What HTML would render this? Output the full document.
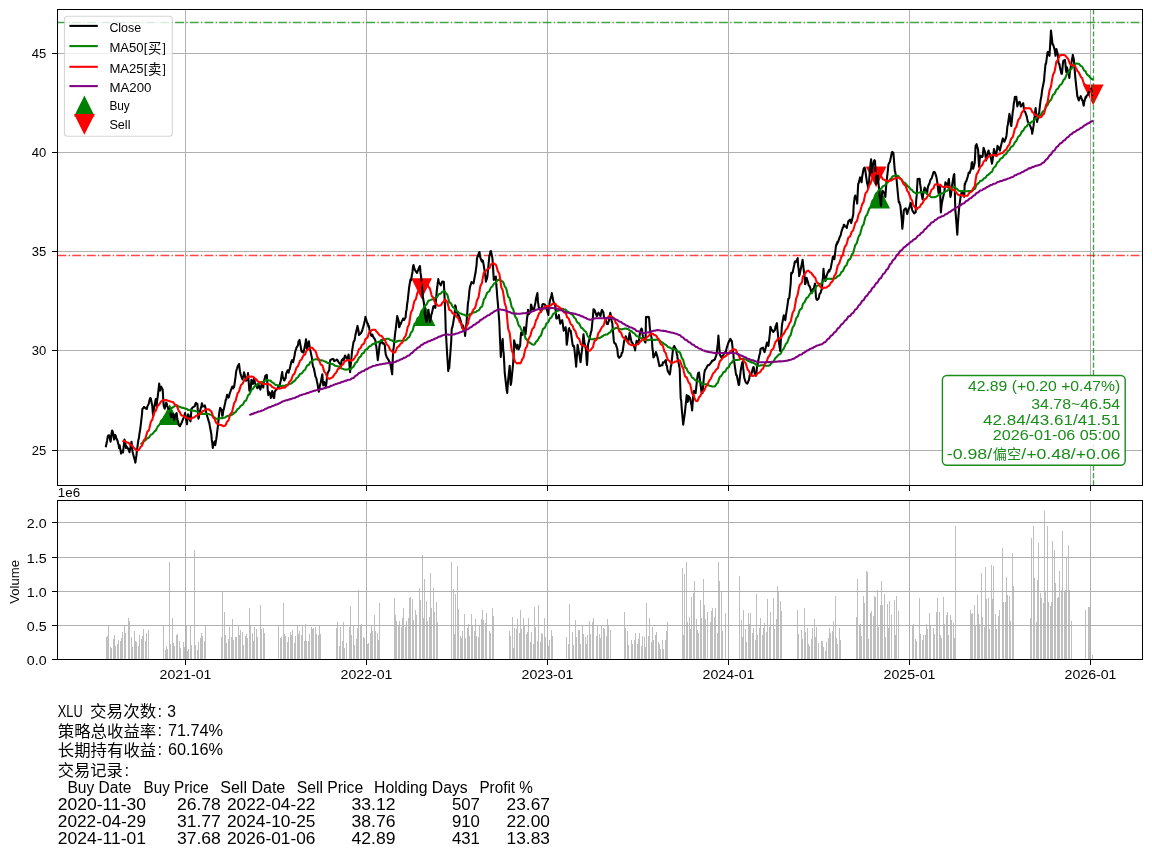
<!DOCTYPE html>
<html lang="zh"><head><meta charset="utf-8"><title>XLU</title><style>html,body{margin:0;padding:0;background:#fff}</style></head><body>
<svg width="1152" height="857" viewBox="0 0 1152 857" style="display:block" font-family="'Liberation Sans', 'Noto Sans CJK SC', sans-serif">
<rect width="1152" height="857" fill="#fff"/>
<g id="price">
<path d="M169.7,404.2 L159.3,425.0 L180.1,425.0 Z" fill="#008000"/>
<path d="M425.0,305.1 L414.6,325.9 L435.4,325.9 Z" fill="#008000"/>
<path d="M879.6,187.8 L869.2,208.6 L890.0,208.6 Z" fill="#008000"/>
<path d="M421.6,299.1 L411.2,278.3 L432.0,278.3 Z" fill="#ff0000"/>
<path d="M876.1,187.2 L865.7,166.4 L886.5,166.4 Z" fill="#ff0000"/>
<path d="M1093.2,105.2 L1082.8,84.4 L1103.6,84.4 Z" fill="#ff0000"/>
<path d="M185.5,9.5 V485.5 M366.5,9.5 V485.5 M547.5,9.5 V485.5 M728.5,9.5 V485.5 M909.5,9.5 V485.5 M1090.5,9.5 V485.5 M57.5,450.5 H1142.5 M57.5,350.5 H1142.5 M57.5,251.5 H1142.5 M57.5,152.5 H1142.5 M57.5,53.5 H1142.5" stroke="#b0b0b0" stroke-width="1" fill="none" shape-rendering="crispEdges"/>
<path d="M57.5,22.5 H1142.5" stroke="#008000" stroke-opacity="0.72" stroke-width="1.35" stroke-dasharray="8.9 2.2 1.4 2.2" fill="none"/>
<path d="M57.5,255.5 H1142.5" stroke="#ff0000" stroke-opacity="0.72" stroke-width="1.35" stroke-dasharray="8.9 2.2 1.4 2.2" fill="none"/>
<path d="M1093.5,485.5 V9.5" stroke="#008000" stroke-opacity="0.72" stroke-width="1.35" stroke-dasharray="5.14 2.22" fill="none"/>
<path d="M105.7,447.3 L107.2,440.2 L107.7,436.8 L108.2,435.5 L108.7,435.4 L109.2,435.4 L110.6,441.7 L111.1,437.8 L111.6,433.0 L112.1,430.5 L112.6,431.2 L114.1,439.6 L114.6,437.2 L115.1,434.7 L115.6,435.6 L116.1,437.7 L117.6,441.0 L118.1,443.5 L118.6,444.4 L119.1,448.0 L119.6,445.3 L121.1,453.6 L121.6,451.3 L122.1,450.8 L122.5,451.5 L123.0,452.5 L124.5,439.6 L125.0,441.2 L125.5,444.6 L126.0,448.0 L126.5,446.3 L128.5,449.3 L129.0,450.5 L129.5,452.2 L130.0,449.6 L131.5,441.7 L132.0,446.5 L132.5,451.4 L133.0,453.6 L133.5,455.5 L134.9,460.5 L135.4,462.7 L135.9,458.9 L136.4,455.7 L136.9,450.8 L138.4,439.7 L138.9,438.1 L139.4,434.0 L139.9,431.2 L140.4,428.0 L141.9,415.1 L142.4,408.8 L142.9,408.5 L143.4,408.2 L143.9,407.0 L145.3,407.8 L145.8,408.2 L146.3,408.8 L146.8,409.0 L147.3,406.6 L148.8,403.6 L149.3,401.0 L149.8,399.0 L150.3,398.0 L150.8,398.5 L152.3,406.0 L152.8,412.8 L153.3,415.8 L153.8,409.9 L154.3,406.8 L155.8,399.0 L156.3,402.3 L156.7,406.0 L157.2,400.1 L157.7,396.8 L159.2,383.6 L159.7,387.7 L160.2,390.6 L160.7,387.5 L161.2,386.6 L162.7,389.6 L163.2,398.6 L163.7,406.0 L164.2,407.1 L164.7,408.8 L166.2,402.5 L166.7,403.7 L167.2,405.6 L168.2,408.8 L169.6,408.9 L170.1,411.0 L170.6,414.2 L171.1,417.2 L171.6,416.7 L173.1,414.1 L173.6,417.5 L174.1,420.0 L174.6,418.6 L175.1,415.3 L176.6,413.0 L177.1,417.2 L177.6,420.0 L178.1,421.5 L178.6,424.7 L180.0,426.3 L180.5,424.4 L181.0,424.2 L181.5,422.8 L183.5,418.0 L184.0,417.2 L184.5,415.9 L185.0,413.0 L187.0,424.2 L187.5,418.6 L188.0,414.4 L188.5,414.8 L189.0,417.5 L190.5,421.4 L191.0,415.3 L191.4,408.8 L191.9,408.6 L192.4,407.6 L194.4,406.4 L194.9,406.0 L195.4,403.7 L195.9,402.9 L197.4,404.1 L197.9,411.8 L198.4,418.6 L198.9,417.4 L199.4,413.2 L200.9,407.9 L201.4,405.7 L201.9,403.2 L202.4,405.0 L202.8,406.6 L204.3,406.1 L204.8,405.3 L205.3,407.4 L205.8,409.2 L206.3,413.3 L208.3,419.7 L208.8,421.8 L209.3,422.8 L209.8,426.0 L211.3,434.0 L211.8,439.9 L212.3,442.9 L212.8,448.0 L213.3,444.6 L214.7,441.4 L215.2,445.2 L215.7,442.4 L216.2,439.5 L216.7,435.9 L218.2,423.6 L218.7,417.8 L219.2,413.3 L219.7,410.2 L220.2,407.8 L221.7,410.1 L222.2,415.8 L222.7,415.5 L223.2,410.9 L223.7,409.6 L225.2,402.8 L225.7,399.9 L226.1,399.9 L226.6,397.3 L227.1,394.8 L228.6,397.6 L229.1,396.4 L229.6,393.9 L230.1,392.5 L232.1,386.8 L232.6,386.5 L233.1,388.5 L233.6,386.9 L234.1,387.1 L235.6,376.4 L236.1,371.9 L236.6,369.6 L237.1,368.6 L237.5,366.8 L239.0,364.0 L239.5,367.7 L240.0,371.5 L240.5,373.8 L241.0,375.3 L242.5,379.4 L243.0,376.7 L243.5,376.1 L244.0,372.4 L244.5,373.9 L246.0,380.8 L246.5,380.4 L247.0,378.6 L247.5,376.8 L248.0,373.1 L249.4,390.6 L249.9,389.7 L250.4,391.0 L250.9,386.1 L251.4,379.8 L252.9,384.0 L253.4,382.3 L253.9,378.4 L254.4,378.6 L254.9,383.0 L256.4,385.8 L256.9,387.2 L257.4,388.2 L257.9,386.1 L258.4,384.2 L260.4,389.6 L260.8,387.8 L261.3,385.6 L261.8,384.0 L263.3,387.5 L263.8,382.2 L264.3,380.1 L264.8,378.4 L265.3,375.9 L266.8,374.9 L267.3,383.4 L267.8,391.0 L268.3,395.2 L268.8,391.9 L270.3,393.4 L270.8,398.0 L271.3,396.3 L271.8,393.1 L272.2,391.0 L273.7,398.0 L274.2,398.0 L274.7,392.2 L275.2,391.0 L275.7,390.3 L277.7,388.2 L278.2,386.6 L278.7,386.8 L279.2,387.1 L280.7,381.0 L281.2,378.0 L281.7,374.6 L282.2,372.1 L282.7,376.8 L284.1,380.5 L284.6,380.4 L285.1,378.0 L285.6,378.4 L286.1,373.7 L287.6,370.3 L288.1,370.9 L288.6,372.8 L289.1,370.1 L289.6,369.4 L291.1,362.7 L291.6,361.2 L292.1,360.2 L292.6,361.2 L293.1,362.3 L294.6,355.6 L295.0,352.5 L295.5,350.4 L296.0,349.5 L296.5,347.6 L298.0,345.2 L298.5,341.6 L299.0,340.8 L299.5,339.9 L300.0,342.6 L301.5,351.2 L302.0,351.8 L302.5,351.1 L303.0,352.5 L303.5,352.6 L305.0,345.5 L305.5,343.3 L306.0,339.2 L306.5,343.2 L306.9,349.0 L308.9,341.3 L309.4,345.2 L309.9,349.0 L310.4,350.6 L311.9,357.9 L312.4,363.1 L312.9,365.8 L313.4,367.5 L313.9,368.3 L315.4,376.3 L315.9,377.4 L316.4,378.4 L316.9,381.3 L317.4,383.3 L318.8,391.7 L319.3,389.1 L319.8,386.4 L320.3,384.0 L320.8,382.2 L322.3,374.2 L322.8,380.7 L323.3,385.4 L323.8,382.8 L324.3,382.1 L325.8,386.8 L326.3,383.8 L326.8,379.3 L327.3,374.6 L327.8,372.8 L329.3,370.0 L329.7,364.4 L330.2,360.2 L330.7,359.8 L331.2,359.7 L332.7,358.8 L333.2,359.3 L333.7,359.3 L334.2,361.2 L334.7,360.9 L336.2,360.3 L336.7,359.5 L337.2,359.9 L337.7,360.3 L338.2,361.6 L339.7,363.7 L340.2,363.8 L340.7,365.8 L341.1,365.7 L341.6,360.7 L343.1,358.6 L343.6,360.2 L344.1,359.3 L344.6,356.7 L345.1,355.5 L346.6,358.1 L347.1,358.8 L347.6,358.4 L348.6,354.6 L350.1,372.1 L350.6,365.8 L351.1,361.3 L351.6,356.0 L352.1,350.8 L353.5,342.1 L354.0,341.2 L354.5,340.4 L355.0,337.8 L355.5,334.5 L357.0,328.2 L357.5,325.9 L358.0,328.2 L358.5,331.0 L359.0,335.0 L360.5,333.8 L361.0,332.9 L361.5,332.2 L362.0,331.2 L364.0,324.4 L364.4,322.2 L364.9,320.6 L365.4,316.8 L367.4,323.8 L367.9,323.6 L368.4,326.6 L368.9,326.0 L369.4,329.4 L370.9,335.0 L371.4,335.8 L371.9,335.5 L372.4,334.6 L372.9,336.4 L374.9,339.4 L375.4,340.6 L375.8,345.1 L376.3,346.2 L377.8,360.2 L378.3,356.2 L378.8,352.6 L379.3,347.6 L379.8,343.7 L381.3,340.0 L381.8,340.9 L382.3,343.4 L382.8,343.4 L383.3,342.8 L384.8,345.1 L385.3,350.9 L385.8,354.6 L386.3,355.8 L386.8,357.2 L388.2,359.6 L388.7,360.0 L389.2,362.3 L389.7,362.0 L390.2,363.0 L392.2,374.2 L392.7,360.5 L393.2,350.4 L393.7,347.4 L395.2,332.7 L395.7,329.4 L396.2,325.2 L396.7,320.9 L397.2,316.1 L398.7,321.2 L399.1,327.2 L399.6,326.8 L400.1,323.4 L400.6,324.5 L402.1,320.5 L402.6,320.1 L403.1,318.5 L403.6,319.7 L404.1,320.0 L405.6,317.3 L406.1,311.6 L406.6,309.7 L407.1,304.3 L407.6,301.5 L409.1,287.7 L409.6,284.3 L410.1,281.7 L410.5,279.4 L411.0,280.3 L412.5,271.7 L413.0,266.9 L413.5,265.1 L414.0,267.0 L414.5,269.1 L416.0,271.7 L416.5,272.0 L417.0,273.0 L417.5,271.6 L419.5,266.6 L420.0,266.0 L420.5,272.9 L421.0,275.9 L421.5,280.0 L422.9,297.5 L423.4,300.1 L423.9,302.7 L424.4,307.9 L424.9,315.0 L426.4,322.0 L426.9,319.4 L427.4,315.5 L427.9,311.6 L428.4,309.7 L429.9,322.0 L430.4,320.6 L430.9,317.6 L431.4,314.3 L431.9,313.2 L433.4,306.2 L433.8,307.3 L434.3,306.2 L434.8,307.3 L435.3,308.0 L436.8,290.5 L437.3,287.0 L437.8,282.4 L438.3,279.1 L438.8,282.2 L440.8,285.3 L441.3,283.9 L441.8,282.6 L442.3,281.5 L443.8,281.7 L444.3,291.6 L444.8,302.7 L445.2,311.3 L445.7,329.0 L447.2,355.2 L447.7,361.9 L448.2,371.0 L448.7,367.8 L449.2,368.3 L451.2,341.5 L451.7,329.0 L452.2,327.7 L452.7,325.9 L454.2,316.8 L454.7,313.6 L455.2,305.4 L455.7,306.3 L456.2,310.4 L458.1,315.4 L458.6,315.0 L459.1,316.7 L459.6,317.2 L461.1,322.4 L461.6,324.7 L462.1,327.6 L462.6,327.2 L463.1,325.6 L464.6,331.5 L465.1,336.0 L465.6,330.5 L466.1,327.2 L466.6,322.0 L468.0,302.7 L468.5,300.2 L469.0,295.3 L469.5,289.9 L470.0,287.0 L471.5,282.1 L472.0,282.6 L472.5,282.9 L473.0,283.1 L473.5,283.5 L475.0,275.1 L475.5,273.0 L476.0,268.8 L476.5,265.6 L477.0,258.1 L478.5,254.5 L479.0,252.5 L479.5,252.0 L479.9,255.2 L480.4,258.0 L481.9,261.6 L482.4,260.3 L482.9,260.7 L483.4,263.5 L483.9,266.3 L485.4,276.4 L485.9,281.7 L486.4,279.8 L486.9,278.9 L487.4,276.5 L489.4,255.5 L489.9,254.3 L490.4,251.5 L490.9,251.0 L492.3,257.4 L492.8,262.5 L493.3,272.1 L493.8,280.0 L494.3,279.2 L495.8,276.5 L496.3,284.7 L496.8,290.4 L497.3,297.5 L497.8,302.7 L499.3,322.0 L499.8,334.8 L500.3,345.2 L500.8,357.0 L501.3,348.1 L502.7,339.0 L503.2,350.0 L503.7,353.7 L504.2,362.6 L504.7,372.7 L506.2,385.9 L506.7,390.4 L507.2,392.9 L507.7,385.6 L508.2,379.6 L509.7,365.7 L510.2,375.2 L510.7,385.0 L511.2,382.8 L511.7,377.9 L513.2,362.6 L513.7,353.9 L514.1,340.4 L514.6,342.3 L515.1,343.5 L516.6,348.7 L517.1,346.0 L517.6,344.7 L518.1,348.2 L518.6,349.2 L520.1,345.9 L520.6,338.3 L521.1,332.5 L521.6,333.4 L522.1,334.9 L523.6,332.2 L524.1,327.2 L524.6,329.6 L525.1,332.3 L525.6,334.2 L527.0,318.5 L527.5,315.8 L528.0,309.7 L529.0,314.1 L530.5,311.5 L531.0,304.5 L531.5,305.7 L532.0,307.9 L532.5,309.5 L534.0,309.4 L534.5,306.8 L535.0,304.5 L535.5,302.2 L536.0,298.4 L537.4,293.1 L537.9,300.9 L538.4,304.6 L538.9,308.0 L539.4,307.6 L540.9,311.5 L541.4,309.8 L541.9,307.6 L542.4,304.5 L542.9,304.1 L544.9,304.6 L545.4,305.4 L545.9,306.2 L546.4,308.3 L548.4,315.0 L548.8,306.8 L549.3,305.0 L549.8,301.0 L551.3,296.0 L551.8,293.1 L552.3,296.1 L552.8,298.2 L553.3,301.0 L555.3,306.2 L555.8,312.6 L556.3,318.5 L556.8,318.5 L558.3,317.1 L558.8,315.0 L559.3,318.2 L559.8,320.9 L560.2,323.7 L561.7,321.0 L562.2,320.2 L562.7,323.2 L563.2,326.8 L563.7,330.7 L565.2,328.7 L565.7,327.2 L566.2,334.5 L566.7,344.7 L567.2,341.8 L568.7,329.0 L569.2,328.2 L569.7,330.7 L570.2,330.6 L570.7,330.7 L572.6,344.7 L573.1,346.1 L573.6,345.6 L574.1,346.5 L575.6,360.3 L576.1,366.6 L576.6,360.5 L577.1,353.5 L577.6,344.7 L579.1,353.2 L579.6,355.5 L580.1,359.6 L580.6,362.2 L581.1,357.1 L582.6,344.7 L583.1,338.2 L583.5,334.2 L584.0,339.2 L584.5,342.7 L586.0,350.0 L586.5,358.6 L587.0,364.9 L587.5,358.4 L588.0,344.7 L589.5,339.1 L590.0,336.0 L590.5,334.2 L591.0,332.0 L591.5,330.7 L593.0,315.8 L593.5,309.2 L594.0,309.4 L594.5,309.9 L596.4,315.1 L596.9,316.2 L597.4,315.6 L597.9,313.5 L598.4,312.7 L599.9,314.4 L600.4,316.2 L600.9,314.1 L601.4,311.5 L601.9,309.8 L603.4,312.6 L603.9,316.3 L604.4,318.0 L604.9,317.8 L605.4,318.8 L606.8,323.9 L607.3,323.9 L607.8,324.1 L608.3,322.2 L608.8,321.1 L610.3,312.7 L610.8,315.1 L611.3,319.3 L611.8,321.7 L612.3,323.2 L613.8,340.7 L614.3,342.9 L614.8,343.5 L615.3,343.4 L615.8,344.2 L617.3,349.1 L617.8,354.1 L618.2,356.5 L618.7,357.2 L619.2,357.8 L621.2,355.6 L621.7,352.9 L622.2,352.9 L622.7,351.2 L624.2,340.7 L624.7,339.6 L625.2,338.8 L625.7,336.3 L626.2,337.2 L627.7,342.5 L628.2,341.8 L628.7,339.8 L629.2,335.5 L629.6,332.9 L631.6,342.5 L632.1,342.3 L632.6,343.3 L633.1,344.2 L634.6,347.8 L635.1,350.4 L635.6,345.2 L636.1,343.9 L636.6,340.7 L638.1,344.2 L639.1,339.3 L639.6,335.5 L640.1,332.0 L641.5,328.5 L642.0,329.4 L642.5,334.2 L643.0,336.8 L643.5,338.1 L645.0,342.2 L645.5,342.5 L646.0,317.1 L646.5,317.1 L647.0,317.1 L648.5,316.9 L649.0,317.1 L649.5,323.3 L650.0,330.2 L650.5,331.6 L652.0,340.7 L652.4,348.3 L652.9,351.2 L653.4,357.4 L653.9,357.0 L655.4,353.7 L655.9,352.1 L656.4,353.3 L656.9,355.5 L657.4,356.5 L658.9,363.6 L659.4,366.1 L659.9,365.4 L660.4,365.8 L660.9,365.2 L662.4,365.2 L662.9,362.4 L663.4,362.7 L663.9,362.6 L664.3,362.2 L665.8,360.0 L666.3,365.3 L666.8,365.4 L667.3,368.7 L667.8,371.1 L669.8,374.4 L670.3,371.6 L670.8,366.7 L671.3,365.2 L672.8,351.2 L673.3,347.7 L673.8,346.9 L674.3,346.0 L674.8,347.3 L676.2,349.5 L676.7,353.5 L677.2,355.1 L677.7,359.1 L678.2,361.1 L679.7,368.7 L680.2,384.4 L680.7,398.5 L681.2,400.5 L681.7,408.3 L683.2,424.7 L683.7,420.9 L684.2,417.7 L684.7,414.2 L685.2,409.6 L686.7,395.0 L687.1,398.6 L687.6,402.0 L688.1,400.7 L688.6,396.1 L690.1,398.1 L690.6,401.0 L691.1,403.7 L691.6,405.5 L692.1,410.4 L693.6,391.5 L694.1,390.8 L694.6,390.9 L695.1,392.5 L695.6,393.2 L697.1,379.6 L697.6,375.9 L698.1,373.1 L698.5,373.6 L699.0,372.5 L700.5,384.3 L701.0,388.0 L701.5,392.1 L702.0,390.7 L702.5,393.2 L704.0,375.6 L704.5,372.2 L705.0,370.0 L705.5,369.5 L706.0,368.7 L707.5,365.8 L708.0,365.1 L708.5,365.2 L709.5,364.7 L710.9,362.9 L711.4,362.0 L711.9,360.9 L712.4,361.3 L712.9,360.5 L714.4,359.8 L714.9,359.4 L715.4,357.4 L715.9,356.5 L716.4,355.1 L717.9,343.1 L718.4,335.5 L718.9,342.0 L719.4,349.1 L719.9,354.7 L721.4,357.4 L721.8,357.9 L722.3,356.1 L722.8,356.8 L723.3,355.0 L725.3,351.8 L725.8,352.8 L726.3,349.5 L726.8,347.5 L728.8,341.6 L729.3,340.8 L729.8,340.9 L730.3,338.8 L731.8,341.0 L732.3,345.4 L732.8,349.5 L733.2,352.4 L733.7,358.2 L735.7,372.2 L736.2,375.1 L736.7,375.1 L737.2,377.5 L738.7,385.0 L739.2,384.5 L739.7,379.0 L740.2,375.0 L740.7,370.5 L742.2,362.5 L742.7,361.7 L743.2,368.2 L743.7,372.9 L744.2,377.5 L745.6,382.0 L746.1,382.7 L746.6,383.4 L747.1,383.6 L747.6,383.2 L749.1,379.3 L749.6,375.7 L750.1,374.8 L750.6,375.0 L751.1,375.3 L753.1,367.6 L753.6,367.0 L754.1,369.3 L754.6,373.1 L756.1,375.6 L756.5,372.1 L757.0,367.1 L757.5,365.2 L758.0,361.9 L759.5,354.7 L760.0,353.6 L760.5,349.1 L761.0,348.6 L761.5,348.3 L763.0,347.7 L763.5,350.1 L764.0,350.7 L764.5,352.1 L765.0,350.4 L766.5,344.4 L767.0,342.5 L767.5,343.0 L767.9,342.7 L768.4,346.0 L769.9,333.3 L770.4,326.7 L770.9,327.7 L771.4,329.5 L773.4,332.0 L773.9,330.6 L774.4,330.6 L774.9,330.2 L775.4,327.0 L776.9,323.2 L777.4,329.6 L777.9,333.7 L778.4,339.0 L778.9,342.4 L780.3,351.2 L780.8,340.7 L781.3,334.8 L781.8,326.7 L782.3,323.1 L783.8,315.3 L784.3,318.4 L784.8,318.8 L785.3,320.2 L785.8,316.2 L787.3,306.4 L787.8,303.0 L788.3,299.0 L788.8,298.7 L789.3,297.7 L790.7,283.5 L791.2,272.9 L791.7,272.8 L792.2,273.1 L792.7,272.1 L794.2,265.0 L794.7,262.3 L795.2,261.3 L795.7,262.3 L796.2,261.4 L797.7,258.2 L798.2,266.6 L798.7,269.1 L799.2,276.1 L799.7,274.2 L801.7,264.4 L802.2,261.9 L802.6,259.8 L803.1,264.3 L804.6,277.2 L805.1,284.3 L805.6,283.5 L806.1,278.9 L806.6,277.8 L808.1,282.5 L808.6,285.1 L809.1,285.8 L809.6,286.1 L810.1,287.6 L811.6,293.3 L812.1,291.8 L813.1,288.8 L813.6,289.2 L815.0,283.5 L815.5,290.5 L816.0,297.4 L816.5,299.3 L817.0,299.9 L818.5,298.7 L819.0,296.7 L819.5,294.1 L820.5,293.0 L822.0,288.1 L822.5,281.0 L823.0,277.1 L823.5,268.8 L824.0,274.8 L825.4,280.9 L825.9,279.1 L826.4,276.1 L826.9,275.0 L827.4,273.5 L828.9,270.1 L829.4,271.5 L829.9,269.6 L830.4,269.3 L830.9,267.4 L832.4,259.4 L832.9,256.5 L833.4,257.6 L833.9,258.3 L834.4,259.1 L835.9,246.5 L836.4,244.3 L836.8,244.6 L837.3,242.0 L837.8,242.7 L839.3,238.3 L839.8,236.9 L840.3,236.2 L840.8,234.9 L841.3,232.1 L842.8,227.6 L843.3,226.9 L843.8,224.8 L844.3,224.8 L844.8,226.5 L846.3,226.4 L846.8,228.0 L847.3,225.1 L847.8,224.1 L848.3,221.3 L850.2,219.6 L850.7,221.8 L851.2,223.1 L851.7,221.0 L853.2,215.0 L853.7,205.4 L854.2,201.2 L854.7,197.0 L855.2,195.6 L856.7,199.6 L857.2,203.5 L857.7,193.0 L858.2,183.9 L858.7,183.1 L860.1,177.4 L860.6,178.9 L861.1,180.8 L861.6,182.3 L862.1,177.0 L863.6,168.9 L864.1,168.1 L864.6,167.6 L865.1,168.8 L865.6,172.7 L867.1,183.3 L867.6,184.5 L868.1,188.0 L868.6,184.6 L869.1,180.4 L870.6,163.2 L871.1,159.4 L871.5,164.9 L872.0,172.5 L872.5,167.3 L874.0,161.1 L874.5,160.2 L875.0,161.0 L875.5,170.4 L876.0,183.9 L877.5,176.8 L878.0,175.7 L878.5,183.8 L879.0,188.2 L879.5,195.3 L881.0,206.0 L881.5,197.3 L882.0,193.7 L882.5,190.8 L882.9,190.9 L884.4,193.5 L884.9,195.5 L885.4,197.0 L885.9,189.1 L886.4,182.8 L887.9,170.1 L888.4,164.3 L888.9,163.7 L889.4,162.4 L889.9,161.9 L891.4,154.7 L891.9,152.1 L892.4,151.9 L893.4,152.9 L894.8,170.8 L895.3,172.1 L895.8,175.8 L896.3,175.7 L896.8,182.0 L898.3,198.0 L898.8,202.3 L899.3,201.9 L899.8,204.1 L900.3,205.2 L901.8,220.1 L902.3,228.8 L902.8,224.1 L903.3,219.4 L903.8,210.1 L905.3,208.5 L905.8,208.4 L906.7,212.1 L907.2,214.1 L908.7,208.4 L909.2,208.3 L910.2,204.3 L910.7,202.7 L912.2,210.1 L912.7,211.1 L913.2,211.9 L914.2,213.3 L915.7,212.2 L916.2,200.2 L916.7,195.4 L917.2,186.3 L917.6,179.0 L919.6,178.7 L920.1,183.9 L920.6,186.8 L921.1,191.5 L922.6,199.2 L923.1,194.7 L923.6,192.1 L924.1,190.1 L924.6,187.6 L926.1,190.3 L926.6,193.2 L927.1,193.7 L927.6,188.7 L928.1,186.2 L929.5,183.3 L930.0,181.2 L930.5,179.9 L931.0,179.0 L931.5,178.7 L933.5,172.3 L934.0,171.8 L934.5,172.3 L935.0,172.5 L936.5,177.4 L937.0,180.6 L937.5,183.6 L938.0,188.1 L938.5,192.9 L940.0,185.5 L940.5,203.0 L940.9,212.5 L941.4,206.9 L941.9,202.7 L943.4,196.0 L943.9,193.7 L944.4,190.9 L944.9,187.1 L945.4,182.3 L946.9,185.1 L947.4,187.2 L947.9,184.4 L948.4,181.1 L948.9,179.0 L950.4,197.0 L950.9,195.3 L951.4,190.4 L951.9,186.8 L952.3,183.9 L953.8,175.0 L954.3,174.1 L954.8,189.8 L955.3,210.1 L955.8,215.0 L957.3,234.6 L957.8,224.6 L958.3,218.2 L958.8,211.7 L959.3,206.4 L960.8,195.3 L961.3,193.5 L961.8,191.9 L962.3,192.1 L964.2,196.9 L964.7,183.9 L965.2,184.0 L965.7,181.6 L966.2,181.5 L967.7,176.8 L968.2,174.8 L968.7,172.5 L969.2,172.7 L969.7,173.0 L971.2,168.1 L971.7,162.9 L972.2,162.1 L972.7,165.8 L973.2,168.8 L974.7,162.9 L975.2,154.9 L975.6,145.7 L976.1,145.4 L976.6,144.2 L978.1,149.8 L978.6,159.6 L979.1,167.0 L979.6,161.0 L980.1,155.5 L982.1,157.2 L982.6,156.5 L983.1,152.0 L983.6,147.7 L985.1,152.4 L985.6,156.6 L986.1,160.4 L986.6,158.7 L987.0,155.8 L988.5,150.6 L989.0,152.6 L989.5,154.1 L990.0,153.9 L990.5,156.1 L992.0,163.7 L992.5,160.6 L993.0,157.1 L994.0,149.0 L995.5,155.5 L996.0,155.0 L996.5,152.8 L997.0,149.9 L997.5,145.9 L998.9,147.4 L999.4,149.7 L999.9,150.6 L1000.4,148.2 L1002.4,139.9 L1002.9,138.4 L1003.4,140.4 L1003.9,140.7 L1004.4,141.7 L1005.9,138.0 L1006.4,135.9 L1006.9,131.9 L1007.4,126.2 L1007.9,124.5 L1009.4,113.9 L1009.8,115.5 L1010.3,120.1 L1010.8,124.7 L1011.3,126.1 L1012.8,111.4 L1013.3,109.1 L1013.8,103.3 L1014.3,101.6 L1014.8,97.1 L1016.3,96.8 L1016.8,100.6 L1017.3,106.5 L1017.8,104.7 L1018.3,102.7 L1019.8,101.9 L1020.3,104.4 L1020.8,106.5 L1021.3,106.2 L1021.7,105.1 L1023.2,103.2 L1023.7,106.8 L1024.2,110.9 L1024.7,111.4 L1025.2,112.0 L1026.7,116.3 L1027.2,118.9 L1027.7,121.2 L1028.2,122.3 L1028.7,122.7 L1030.7,127.1 L1031.2,129.0 L1031.7,129.4 L1032.2,133.8 L1033.6,125.4 L1034.1,119.6 L1034.6,116.4 L1035.1,111.9 L1035.6,108.1 L1037.1,122.0 L1037.6,119.0 L1038.1,118.7 L1038.6,114.1 L1039.1,113.0 L1040.6,100.0 L1041.1,98.1 L1041.6,94.6 L1042.1,90.2 L1042.6,87.7 L1044.1,80.3 L1044.5,74.4 L1045.0,69.7 L1045.5,64.0 L1046.0,63.8 L1047.5,52.6 L1048.0,51.8 L1048.5,52.6 L1049.0,54.7 L1049.5,55.8 L1051.0,30.5 L1051.5,35.1 L1052.0,39.2 L1052.5,44.4 L1053.0,44.3 L1054.5,49.1 L1055.0,52.0 L1055.5,55.8 L1055.9,52.3 L1056.4,49.1 L1057.9,54.8 L1058.4,62.4 L1058.9,63.8 L1059.4,64.0 L1059.9,67.3 L1061.4,73.7 L1061.9,73.8 L1062.4,68.8 L1062.9,63.7 L1063.4,60.7 L1064.9,59.9 L1065.4,63.9 L1065.9,69.6 L1066.4,72.2 L1066.9,67.3 L1068.3,72.2 L1068.8,74.4 L1069.3,77.9 L1069.8,72.9 L1070.3,69.7 L1071.8,60.8 L1072.3,58.3 L1072.8,54.9 L1073.8,59.2 L1075.3,77.3 L1075.8,82.1 L1076.3,86.9 L1076.8,91.2 L1077.3,96.1 L1078.8,100.4 L1079.2,99.0 L1079.7,98.3 L1080.2,97.3 L1080.7,96.2 L1082.2,100.3 L1082.7,100.2 L1083.2,103.5 L1083.7,105.7 L1084.2,102.3 L1085.7,96.7 L1086.2,97.5 L1086.7,95.5 L1087.7,95.1 L1089.2,91.4 L1089.7,91.8 L1090.2,90.8 L1091.1,88.5 L1092.6,95.2 L1093.1,95.1" stroke="#000" stroke-width="2.08" fill="none" stroke-linejoin="round"/>
<path d="M140.4,444.0 L141.9,443.4 L142.4,442.7 L142.9,442.2 L143.4,441.6 L143.9,441.1 L145.3,440.5 L145.8,439.8 L146.3,439.3 L146.8,438.8 L147.3,438.3 L148.8,437.8 L149.3,437.0 L149.8,436.2 L150.3,435.5 L150.8,434.7 L152.3,434.1 L152.8,433.5 L153.3,433.0 L153.8,432.3 L154.3,431.5 L155.8,430.6 L156.3,429.5 L156.7,428.6 L157.2,427.6 L157.7,426.5 L159.2,425.1 L159.7,424.1 L160.2,423.1 L160.7,421.9 L161.2,420.7 L162.7,419.6 L163.2,418.6 L163.7,417.7 L164.2,416.8 L164.7,416.0 L166.2,415.2 L166.7,414.3 L167.2,413.4 L168.2,412.5 L169.6,411.6 L170.1,410.6 L170.6,409.6 L171.1,408.8 L171.6,408.0 L173.1,407.3 L173.6,406.8 L174.1,406.5 L174.6,406.2 L175.1,405.8 L176.6,405.5 L177.1,405.6 L177.6,405.8 L178.1,406.1 L178.6,406.4 L180.0,406.8 L180.5,407.1 L181.0,407.4 L181.5,407.7 L183.5,407.9 L184.0,408.1 L184.5,408.3 L185.0,408.6 L187.0,409.1 L187.5,409.5 L188.0,409.8 L188.5,410.0 L189.0,410.1 L190.5,410.2 L191.0,410.3 L191.4,410.3 L191.9,410.5 L192.4,410.6 L194.4,410.7 L194.9,410.8 L195.4,410.9 L195.9,411.3 L197.4,411.6 L197.9,412.0 L198.4,412.7 L198.9,413.3 L199.4,413.8 L200.9,413.9 L201.4,413.9 L201.9,413.9 L202.4,413.8 L202.8,413.9 L204.3,413.9 L204.8,413.9 L205.3,413.9 L205.8,413.9 L206.3,413.9 L208.3,414.0 L208.8,414.1 L209.3,414.3 L209.8,414.5 L211.3,414.8 L211.8,415.2 L212.3,415.7 L212.8,416.4 L213.3,417.0 L214.7,417.5 L215.2,418.0 L215.7,418.4 L216.2,418.7 L216.7,418.9 L218.2,418.9 L218.7,418.7 L219.2,418.6 L219.7,418.4 L220.2,418.2 L221.7,418.1 L222.2,418.2 L222.7,418.0 L223.2,417.8 L223.7,417.7 L225.2,417.5 L225.7,417.1 L226.1,416.7 L226.6,416.4 L227.1,416.1 L228.6,415.9 L229.1,415.6 L229.6,415.4 L230.1,415.1 L232.1,414.8 L232.6,414.4 L233.1,414.1 L233.6,413.6 L234.1,413.0 L235.6,412.2 L236.1,411.4 L236.6,410.6 L237.1,409.8 L237.5,409.1 L239.0,408.3 L239.5,407.5 L240.0,406.8 L240.5,406.2 L241.0,405.6 L242.5,405.0 L243.0,404.2 L243.5,403.4 L244.0,402.4 L244.5,401.4 L246.0,400.5 L246.5,399.4 L247.0,398.2 L247.5,396.9 L248.0,395.4 L249.4,394.3 L249.9,393.3 L250.4,392.2 L250.9,391.0 L251.4,389.8 L252.9,388.8 L253.4,388.0 L253.9,387.2 L254.4,386.5 L254.9,386.0 L256.4,385.5 L256.9,385.1 L257.4,384.5 L257.9,383.9 L258.4,383.4 L260.4,383.0 L260.8,382.7 L261.3,382.4 L261.8,382.1 L263.3,381.9 L263.8,381.6 L264.3,381.3 L264.8,380.9 L265.3,380.6 L266.8,380.2 L267.3,380.1 L267.8,380.2 L268.3,380.4 L268.8,380.5 L270.3,380.6 L270.8,381.0 L271.3,381.5 L271.8,382.0 L272.2,382.4 L273.7,383.1 L274.2,383.7 L274.7,384.2 L275.2,384.6 L275.7,384.9 L277.7,385.2 L278.2,385.3 L278.7,385.5 L279.2,385.8 L280.7,385.9 L281.2,386.0 L281.7,385.9 L282.2,385.7 L282.7,385.7 L284.1,385.8 L284.6,385.9 L285.1,385.7 L285.6,385.4 L286.1,385.1 L287.6,384.8 L288.1,384.6 L288.6,384.4 L289.1,384.1 L289.6,384.0 L291.1,383.6 L291.6,383.2 L292.1,382.7 L292.6,382.2 L293.1,381.7 L294.6,381.0 L295.0,380.4 L295.5,379.6 L296.0,378.9 L296.5,378.1 L298.0,377.3 L298.5,376.4 L299.0,375.6 L299.5,374.8 L300.0,374.1 L301.5,373.6 L302.0,373.1 L302.5,372.5 L303.0,371.7 L303.5,370.8 L305.0,369.9 L305.5,368.9 L306.0,367.7 L306.5,366.7 L306.9,365.8 L308.9,364.8 L309.4,363.7 L309.9,362.7 L310.4,361.9 L311.9,361.3 L312.4,360.7 L312.9,360.3 L313.4,359.9 L313.9,359.5 L315.4,359.3 L315.9,359.2 L316.4,359.2 L316.9,359.4 L317.4,359.6 L318.8,359.9 L319.3,360.1 L319.8,360.2 L320.3,360.3 L320.8,360.4 L322.3,360.4 L322.8,360.6 L323.3,360.9 L323.8,361.1 L324.3,361.3 L325.8,361.7 L326.3,362.1 L326.8,362.5 L327.3,362.7 L327.8,363.0 L329.3,363.1 L329.7,363.3 L330.2,363.5 L330.7,363.6 L331.2,363.8 L332.7,364.1 L333.2,364.4 L333.7,364.7 L334.2,365.1 L334.7,365.5 L336.2,365.9 L336.7,366.1 L337.2,366.2 L337.7,366.4 L338.2,366.6 L339.7,366.8 L340.2,367.2 L340.7,367.6 L341.1,368.2 L341.6,368.5 L343.1,368.7 L343.6,369.1 L344.1,369.4 L344.6,369.5 L345.1,369.6 L346.6,369.6 L347.1,369.5 L347.6,369.4 L348.6,369.1 L350.1,369.2 L350.6,369.0 L351.1,368.7 L351.6,368.2 L352.1,367.6 L353.5,366.8 L354.0,365.8 L354.5,364.8 L355.0,363.8 L355.5,362.8 L357.0,361.8 L357.5,360.8 L358.0,359.7 L358.5,358.7 L359.0,357.7 L360.5,356.7 L361.0,355.7 L361.5,354.6 L362.0,353.7 L364.0,352.7 L364.4,351.6 L364.9,350.7 L365.4,349.7 L367.4,349.0 L367.9,348.3 L368.4,347.6 L368.9,346.9 L369.4,346.3 L370.9,345.9 L371.4,345.3 L371.9,344.8 L372.4,344.3 L372.9,343.9 L374.9,343.4 L375.4,343.1 L375.8,342.7 L376.3,342.4 L377.8,342.3 L378.3,342.1 L378.8,341.8 L379.3,341.6 L379.8,341.3 L381.3,340.9 L381.8,340.5 L382.3,340.2 L382.8,340.0 L383.3,339.7 L384.8,339.4 L385.3,339.3 L385.8,339.3 L386.3,338.9 L386.8,338.8 L388.2,338.7 L388.7,338.8 L389.2,339.1 L389.7,339.4 L390.2,339.9 L392.2,340.6 L392.7,341.0 L393.2,341.3 L393.7,341.7 L395.2,341.9 L395.7,341.9 L396.2,341.8 L396.7,341.5 L397.2,341.1 L398.7,340.9 L399.1,340.8 L399.6,340.7 L400.1,340.7 L400.6,340.7 L402.1,340.7 L402.6,340.8 L403.1,340.7 L403.6,340.6 L404.1,340.5 L405.6,340.3 L406.1,339.9 L406.6,339.4 L407.1,338.8 L407.6,338.1 L409.1,337.2 L409.6,336.1 L410.1,335.0 L410.5,333.8 L411.0,332.5 L412.5,331.0 L413.0,329.1 L413.5,327.3 L414.0,325.6 L414.5,324.0 L416.0,322.6 L416.5,321.2 L417.0,319.9 L417.5,318.4 L419.5,316.9 L420.0,315.4 L420.5,313.9 L421.0,312.4 L421.5,310.9 L422.9,309.7 L423.4,308.6 L423.9,307.5 L424.4,306.4 L424.9,305.5 L426.4,304.7 L426.9,303.8 L427.4,302.6 L427.9,301.7 L428.4,300.8 L429.9,300.3 L430.4,300.1 L430.9,299.9 L431.4,299.6 L431.9,299.5 L433.4,299.3 L433.8,299.0 L434.3,298.6 L434.8,298.2 L435.3,297.9 L436.8,297.2 L437.3,296.5 L437.8,295.8 L438.3,295.0 L438.8,294.3 L440.8,293.6 L441.3,292.9 L441.8,292.3 L442.3,291.7 L443.8,291.3 L444.3,291.1 L444.8,291.4 L445.2,291.9 L445.7,292.9 L447.2,294.4 L447.7,296.0 L448.2,298.0 L448.7,300.0 L449.2,302.1 L451.2,303.6 L451.7,304.8 L452.2,305.9 L452.7,307.0 L454.2,307.9 L454.7,308.7 L455.2,309.5 L455.7,310.3 L456.2,311.0 L458.1,311.8 L458.6,312.5 L459.1,312.9 L459.6,313.3 L461.1,313.6 L461.6,314.0 L462.1,314.2 L462.6,314.3 L463.1,314.5 L464.6,314.8 L465.1,315.3 L465.6,315.7 L466.1,315.8 L466.6,315.8 L468.0,315.5 L468.5,315.2 L469.0,314.9 L469.5,314.6 L470.0,314.1 L471.5,313.7 L472.0,313.2 L472.5,312.7 L473.0,312.5 L473.5,312.4 L475.0,312.3 L475.5,312.2 L476.0,311.9 L476.5,311.5 L477.0,311.0 L478.5,310.4 L479.0,309.9 L479.5,309.3 L479.9,308.5 L480.4,307.6 L481.9,306.6 L482.4,305.3 L482.9,303.4 L483.4,301.4 L483.9,299.3 L485.4,297.5 L485.9,295.8 L486.4,294.5 L486.9,293.5 L487.4,292.5 L489.4,291.1 L489.9,289.8 L490.4,288.6 L490.9,287.5 L492.3,286.5 L492.8,285.6 L493.3,284.7 L493.8,284.0 L494.3,283.3 L495.8,282.4 L496.3,281.7 L496.8,281.0 L497.3,280.4 L497.8,279.9 L499.3,279.8 L499.8,279.9 L500.3,280.1 L500.8,280.6 L501.3,281.0 L502.7,281.4 L503.2,282.3 L503.7,283.4 L504.2,284.7 L504.7,286.4 L506.2,288.4 L506.7,290.5 L507.2,292.8 L507.7,294.8 L508.2,296.7 L509.7,298.4 L510.2,300.4 L510.7,302.6 L511.2,304.9 L511.7,307.2 L513.2,309.2 L513.7,311.2 L514.1,313.0 L514.6,314.8 L515.1,316.6 L516.6,318.4 L517.1,320.1 L517.6,321.7 L518.1,323.5 L518.6,325.2 L520.1,326.8 L520.6,328.0 L521.1,329.1 L521.6,330.1 L522.1,331.2 L523.6,332.4 L524.1,333.8 L524.6,335.3 L525.1,336.9 L525.6,338.6 L527.0,339.8 L527.5,340.9 L528.0,341.6 L529.0,342.3 L530.5,343.0 L531.0,343.5 L531.5,343.9 L532.0,344.3 L532.5,344.5 L534.0,344.7 L534.5,344.4 L535.0,343.7 L535.5,342.9 L536.0,341.7 L537.4,340.6 L537.9,339.9 L538.4,338.9 L538.9,338.0 L539.4,336.9 L540.9,335.7 L541.4,334.2 L541.9,332.5 L542.4,330.8 L542.9,329.1 L544.9,327.6 L545.4,326.4 L545.9,325.0 L546.4,323.5 L548.4,322.2 L548.8,320.7 L549.3,319.6 L549.8,318.5 L551.3,317.6 L551.8,316.7 L552.3,315.7 L552.8,314.7 L553.3,313.8 L555.3,313.0 L555.8,312.3 L556.3,311.7 L556.8,311.1 L558.3,310.7 L558.8,310.4 L559.3,310.1 L559.8,309.8 L560.2,309.6 L561.7,309.5 L562.2,309.3 L562.7,309.1 L563.2,309.0 L563.7,309.2 L565.2,309.5 L565.7,309.8 L566.2,310.2 L566.7,310.9 L567.2,311.6 L568.7,312.1 L569.2,312.5 L569.7,312.9 L570.2,313.4 L570.7,313.8 L572.6,314.7 L573.1,315.5 L573.6,316.5 L574.1,317.5 L575.6,318.7 L576.1,320.0 L576.6,321.0 L577.1,321.9 L577.6,322.6 L579.1,323.5 L579.6,324.4 L580.1,325.5 L580.6,326.7 L581.1,327.7 L582.6,328.5 L583.1,329.2 L583.5,329.7 L584.0,330.2 L584.5,330.9 L586.0,331.8 L586.5,332.9 L587.0,334.3 L587.5,335.6 L588.0,336.6 L589.5,337.4 L590.0,338.1 L590.5,338.7 L591.0,339.1 L591.5,339.3 L593.0,339.3 L593.5,339.1 L594.0,339.0 L594.5,338.8 L596.4,338.7 L596.9,338.6 L597.4,338.4 L597.9,338.3 L598.4,338.1 L599.9,337.9 L600.4,337.6 L600.9,337.3 L601.4,337.0 L601.9,336.5 L603.4,335.8 L603.9,335.3 L604.4,335.1 L604.9,334.9 L605.4,334.6 L606.8,334.5 L607.3,334.4 L607.8,334.0 L608.3,333.5 L608.8,333.0 L610.3,332.3 L610.8,331.4 L611.3,330.5 L611.8,329.7 L612.3,329.1 L613.8,329.0 L614.3,328.8 L614.8,328.6 L615.3,328.2 L615.8,327.9 L617.3,327.7 L617.8,327.9 L618.2,328.3 L618.7,328.7 L619.2,329.1 L621.2,329.4 L621.7,329.4 L622.2,329.3 L622.7,329.0 L624.2,328.7 L624.7,328.6 L625.2,328.6 L625.7,328.6 L626.2,328.6 L627.7,328.9 L628.2,329.1 L628.7,329.6 L629.2,330.1 L629.6,330.5 L631.6,331.2 L632.1,331.7 L632.6,332.3 L633.1,332.9 L634.6,333.5 L635.1,334.3 L635.6,334.9 L636.1,335.5 L636.6,336.0 L638.1,336.6 L639.1,337.2 L639.6,337.7 L640.1,338.0 L641.5,338.2 L642.0,338.5 L642.5,338.8 L643.0,339.0 L643.5,339.3 L645.0,339.7 L645.5,340.1 L646.0,340.0 L646.5,340.1 L647.0,340.1 L648.5,340.1 L649.0,340.0 L649.5,340.0 L650.0,339.8 L650.5,339.5 L652.0,339.5 L652.4,339.6 L652.9,339.7 L653.4,339.9 L653.9,339.9 L655.4,339.9 L655.9,339.8 L656.4,339.7 L656.9,339.7 L657.4,339.8 L658.9,340.0 L659.4,340.3 L659.9,340.8 L660.4,341.3 L660.9,341.8 L662.4,342.4 L662.9,342.9 L663.4,343.3 L663.9,343.7 L664.3,344.2 L665.8,344.7 L666.3,345.3 L666.8,345.8 L667.3,346.3 L667.8,346.9 L669.8,347.5 L670.3,347.9 L670.8,348.3 L671.3,348.7 L672.8,348.8 L673.3,349.0 L673.8,349.0 L674.3,349.1 L674.8,349.4 L676.2,349.7 L676.7,350.2 L677.2,350.7 L677.7,351.2 L678.2,351.7 L679.7,352.3 L680.2,353.2 L680.7,354.3 L681.2,356.0 L681.7,357.8 L683.2,359.9 L683.7,362.0 L684.2,364.0 L684.7,365.9 L685.2,367.4 L686.7,368.7 L687.1,369.9 L687.6,370.9 L688.1,371.9 L688.6,372.7 L690.1,373.5 L690.6,374.5 L691.1,375.5 L691.6,376.6 L692.1,377.6 L693.6,378.3 L694.1,378.9 L694.6,379.4 L695.1,379.9 L695.6,380.5 L697.1,380.8 L697.6,381.0 L698.1,381.2 L698.5,381.4 L699.0,381.6 L700.5,382.0 L701.0,382.6 L701.5,383.1 L702.0,383.7 L702.5,384.1 L704.0,384.2 L704.5,384.2 L705.0,384.2 L705.5,384.2 L706.0,384.3 L707.5,384.6 L708.0,384.9 L708.5,385.3 L709.5,385.7 L710.9,386.0 L711.4,386.2 L711.9,386.4 L712.4,386.5 L712.9,386.5 L714.4,386.5 L714.9,386.3 L715.4,385.8 L715.9,384.9 L716.4,384.0 L717.9,382.7 L718.4,380.9 L718.9,379.4 L719.4,378.0 L719.9,376.8 L721.4,375.8 L721.8,375.0 L722.3,374.2 L722.8,373.3 L723.3,372.3 L725.3,371.5 L725.8,370.5 L726.3,369.5 L726.8,368.4 L728.8,367.1 L729.3,365.7 L729.8,364.7 L730.3,363.7 L731.8,362.7 L732.3,361.7 L732.8,360.9 L733.2,360.3 L733.7,360.0 L735.7,359.9 L736.2,360.0 L736.7,360.0 L737.2,359.9 L738.7,359.8 L739.2,359.7 L739.7,359.4 L740.2,359.1 L740.7,359.0 L742.2,358.8 L742.7,358.6 L743.2,358.6 L743.7,358.7 L744.2,358.9 L745.6,359.2 L746.1,359.6 L746.6,360.0 L747.1,360.4 L747.6,360.8 L749.1,361.2 L749.6,361.5 L750.1,361.8 L750.6,362.1 L751.1,362.4 L753.1,362.6 L753.6,362.8 L754.1,363.1 L754.6,363.7 L756.1,364.5 L756.5,365.1 L757.0,365.4 L757.5,365.6 L758.0,365.7 L759.5,365.7 L760.0,365.6 L760.5,365.5 L761.0,365.3 L761.5,365.3 L763.0,365.2 L763.5,365.2 L764.0,365.2 L764.5,365.5 L765.0,365.6 L766.5,365.7 L767.0,365.8 L767.5,365.8 L767.9,365.8 L768.4,365.7 L769.9,365.3 L770.4,364.7 L770.9,363.8 L771.4,362.9 L773.4,362.0 L773.9,361.1 L774.4,360.0 L774.9,358.9 L775.4,357.9 L776.9,356.8 L777.4,356.0 L777.9,355.4 L778.4,355.0 L778.9,354.5 L780.3,354.0 L780.8,353.3 L781.3,352.4 L781.8,351.2 L782.3,350.0 L783.8,348.7 L784.3,347.4 L784.8,346.2 L785.3,345.1 L785.8,343.9 L787.3,342.5 L787.8,341.1 L788.3,339.7 L788.8,338.3 L789.3,336.9 L790.7,335.1 L791.2,333.1 L791.7,331.1 L792.2,329.2 L792.7,327.3 L794.2,325.4 L794.7,323.5 L795.2,321.7 L795.7,320.0 L796.2,318.2 L797.7,316.4 L798.2,314.8 L798.7,313.2 L799.2,311.7 L799.7,310.1 L801.7,308.4 L802.2,306.7 L802.6,305.1 L803.1,303.5 L804.6,302.2 L805.1,301.0 L805.6,300.0 L806.1,299.0 L806.6,298.0 L808.1,297.1 L808.6,296.1 L809.1,295.3 L809.6,294.4 L810.1,293.5 L811.6,292.8 L812.1,292.2 L813.1,291.4 L813.6,290.5 L815.0,289.4 L815.5,288.4 L816.0,287.3 L816.5,286.4 L817.0,285.7 L818.5,285.2 L819.0,284.7 L819.5,284.2 L820.5,283.7 L822.0,283.1 L822.5,282.3 L823.0,281.5 L823.5,280.8 L824.0,280.2 L825.4,279.9 L825.9,279.5 L826.4,279.1 L826.9,278.9 L827.4,278.9 L828.9,278.8 L829.4,278.8 L829.9,278.8 L830.4,278.8 L830.9,278.9 L832.4,278.9 L832.9,278.8 L833.4,278.7 L833.9,278.7 L834.4,278.6 L835.9,278.1 L836.4,277.5 L836.8,276.9 L837.3,276.4 L837.8,276.1 L839.3,275.6 L839.8,275.1 L840.3,274.3 L840.8,273.3 L841.3,272.2 L842.8,271.2 L843.3,270.2 L843.8,269.0 L844.3,267.8 L844.8,266.6 L846.3,265.5 L846.8,264.3 L847.3,262.9 L847.8,261.5 L848.3,260.2 L850.2,258.8 L850.7,257.6 L851.2,256.2 L851.7,254.7 L853.2,253.0 L853.7,251.1 L854.2,249.2 L854.7,247.2 L855.2,245.2 L856.7,243.3 L857.2,241.6 L857.7,239.9 L858.2,238.0 L858.7,236.3 L860.1,234.4 L860.6,232.3 L861.1,230.3 L861.6,228.5 L862.1,226.5 L863.6,224.4 L864.1,222.4 L864.6,220.3 L865.1,218.3 L865.6,216.4 L867.1,214.7 L867.6,213.2 L868.1,211.8 L868.6,210.3 L869.1,208.8 L870.6,206.9 L871.1,205.1 L871.5,203.5 L872.0,202.1 L872.5,200.6 L874.0,199.0 L874.5,197.4 L875.0,195.9 L875.5,194.6 L876.0,193.6 L877.5,192.4 L878.0,191.4 L878.5,190.5 L879.0,189.8 L879.5,189.2 L881.0,188.8 L881.5,188.2 L882.0,187.5 L882.5,186.9 L882.9,186.2 L884.4,185.6 L884.9,185.2 L885.4,184.7 L885.9,184.0 L886.4,183.2 L887.9,182.3 L888.4,181.5 L888.9,180.8 L889.4,180.1 L889.9,179.4 L891.4,178.5 L891.9,177.5 L892.4,176.6 L893.4,176.0 L894.8,175.8 L895.3,175.7 L895.8,175.6 L896.3,175.5 L896.8,175.5 L898.3,175.9 L898.8,176.6 L899.3,177.3 L899.8,178.0 L900.3,178.7 L901.8,179.7 L902.3,180.6 L902.8,181.4 L903.3,182.0 L903.8,182.5 L905.3,183.1 L905.8,184.0 L906.7,185.0 L907.2,186.0 L908.7,186.7 L909.2,187.5 L910.2,188.4 L910.7,189.3 L912.2,190.2 L912.7,191.1 L913.2,191.6 L914.2,192.3 L915.7,193.1 L916.2,193.4 L916.7,193.5 L917.2,193.4 L917.6,192.8 L919.6,192.5 L920.1,192.3 L920.6,192.2 L921.1,192.2 L922.6,192.3 L923.1,192.3 L923.6,192.2 L924.1,192.2 L924.6,192.3 L926.1,192.7 L926.6,193.3 L927.1,193.9 L927.6,194.4 L928.1,194.9 L929.5,195.5 L930.0,196.1 L930.5,196.6 L931.0,197.1 L931.5,197.3 L933.5,197.3 L934.0,197.2 L934.5,197.2 L935.0,197.0 L936.5,196.5 L937.0,196.1 L937.5,195.8 L938.0,195.4 L938.5,195.2 L940.0,194.5 L940.5,194.0 L940.9,193.7 L941.4,193.5 L941.9,193.3 L943.4,193.1 L943.9,192.8 L944.4,192.4 L944.9,191.8 L945.4,191.3 L946.9,190.9 L947.4,190.5 L947.9,190.1 L948.4,189.6 L948.9,188.9 L950.4,188.6 L950.9,188.3 L951.4,187.8 L951.9,187.6 L952.3,187.3 L953.8,187.1 L954.3,187.0 L954.8,187.2 L955.3,187.8 L955.8,188.3 L957.3,189.2 L957.8,189.7 L958.3,190.2 L958.8,190.6 L959.3,190.9 L960.8,191.0 L961.3,191.1 L961.8,191.1 L962.3,191.0 L964.2,191.2 L964.7,191.2 L965.2,191.2 L965.7,191.2 L966.2,191.2 L967.7,191.2 L968.2,191.1 L968.7,191.1 L969.2,191.1 L969.7,191.1 L971.2,191.0 L971.7,190.7 L972.2,190.4 L972.7,190.0 L973.2,189.6 L974.7,189.0 L975.2,188.4 L975.6,187.3 L976.1,185.9 L976.6,184.7 L978.1,183.6 L978.6,182.9 L979.1,182.4 L979.6,181.8 L980.1,181.1 L982.1,180.6 L982.6,180.1 L983.1,179.3 L983.6,178.6 L985.1,178.0 L985.6,177.6 L986.1,176.9 L986.6,176.1 L987.0,175.4 L988.5,174.7 L989.0,174.1 L989.5,173.7 L990.0,173.3 L990.5,172.6 L992.0,171.7 L992.5,170.6 L993.0,169.0 L994.0,167.5 L995.5,166.3 L996.0,165.1 L996.5,164.1 L997.0,163.1 L997.5,162.2 L998.9,161.3 L999.4,160.5 L999.9,159.5 L1000.4,158.8 L1002.4,157.9 L1002.9,157.1 L1003.4,156.2 L1003.9,155.5 L1004.4,154.9 L1005.9,154.2 L1006.4,153.4 L1006.9,152.6 L1007.4,151.8 L1007.9,151.0 L1009.4,150.0 L1009.8,149.0 L1010.3,148.1 L1010.8,147.3 L1011.3,146.7 L1012.8,146.0 L1013.3,145.3 L1013.8,144.5 L1014.3,143.5 L1014.8,142.3 L1016.3,140.9 L1016.8,139.7 L1017.3,138.7 L1017.8,137.6 L1018.3,136.6 L1019.8,135.6 L1020.3,134.7 L1020.8,133.8 L1021.3,132.8 L1021.7,131.7 L1023.2,130.6 L1023.7,129.6 L1024.2,128.8 L1024.7,128.0 L1025.2,127.1 L1026.7,126.4 L1027.2,125.6 L1027.7,124.8 L1028.2,124.0 L1028.7,123.3 L1030.7,122.9 L1031.2,122.3 L1031.7,121.8 L1032.2,121.5 L1033.6,121.0 L1034.1,120.4 L1034.6,119.8 L1035.1,119.1 L1035.6,118.2 L1037.1,117.7 L1037.6,117.3 L1038.1,116.9 L1038.6,116.3 L1039.1,115.8 L1040.6,115.0 L1041.1,114.2 L1041.6,113.3 L1042.1,112.5 L1042.6,111.7 L1044.1,110.8 L1044.5,110.1 L1045.0,109.1 L1045.5,108.0 L1046.0,106.8 L1047.5,105.3 L1048.0,104.1 L1048.5,103.0 L1049.0,102.0 L1049.5,101.1 L1051.0,99.8 L1051.5,98.6 L1052.0,97.3 L1052.5,96.1 L1053.0,94.9 L1054.5,93.8 L1055.0,92.8 L1055.5,91.8 L1055.9,90.7 L1056.4,89.6 L1057.9,88.6 L1058.4,87.8 L1058.9,86.9 L1059.4,86.0 L1059.9,85.1 L1061.4,84.3 L1061.9,83.5 L1062.4,82.5 L1062.9,81.3 L1063.4,80.1 L1064.9,78.8 L1065.4,77.6 L1065.9,76.4 L1066.4,75.2 L1066.9,73.9 L1068.3,72.9 L1068.8,72.0 L1069.3,71.2 L1069.8,70.4 L1070.3,69.6 L1071.8,68.4 L1072.3,67.2 L1072.8,65.9 L1073.8,64.8 L1075.3,64.1 L1075.8,63.7 L1076.3,63.5 L1076.8,63.5 L1077.3,63.6 L1078.8,63.8 L1079.2,64.2 L1079.7,64.7 L1080.2,65.2 L1080.7,65.9 L1082.2,66.6 L1082.7,67.6 L1083.2,68.6 L1083.7,69.7 L1084.2,70.6 L1085.7,71.4 L1086.2,72.8 L1086.7,74.0 L1087.7,75.1 L1089.2,76.0 L1089.7,77.0 L1090.2,77.8 L1091.1,78.5 L1092.6,79.3 L1093.1,80.2" stroke="#008000" stroke-width="2.08" fill="none" stroke-linejoin="round"/>
<path d="M122.5,440.7 L123.0,441.0 L124.5,440.9 L125.0,441.1 L125.5,441.5 L126.0,442.0 L126.5,442.4 L128.5,442.7 L129.0,443.2 L129.5,444.0 L130.0,444.8 L131.5,445.2 L132.0,445.5 L132.5,446.0 L133.0,446.8 L133.5,447.6 L134.9,448.5 L135.4,449.4 L135.9,450.0 L136.4,450.4 L136.9,450.5 L138.4,450.3 L138.9,449.7 L139.4,449.0 L139.9,448.2 L140.4,447.3 L141.9,445.8 L142.4,444.6 L142.9,443.2 L143.4,441.8 L143.9,440.1 L145.3,438.6 L145.8,437.0 L146.3,435.3 L146.8,433.6 L147.3,431.8 L148.8,430.3 L149.3,428.5 L149.8,426.4 L150.3,424.2 L150.8,421.9 L152.3,419.7 L152.8,417.7 L153.3,416.0 L153.8,414.2 L154.3,412.4 L155.8,410.8 L156.3,409.4 L156.7,408.2 L157.2,407.0 L157.7,405.7 L159.2,404.5 L159.7,403.6 L160.2,402.9 L160.7,402.1 L161.2,401.3 L162.7,400.5 L163.2,400.2 L163.7,400.1 L164.2,400.0 L164.7,400.1 L166.2,400.0 L166.7,400.1 L167.2,400.4 L168.2,400.8 L169.6,401.2 L170.1,401.4 L170.6,401.5 L171.1,401.6 L171.6,401.8 L173.1,402.1 L173.6,402.9 L174.1,403.6 L174.6,404.1 L175.1,404.7 L176.6,405.3 L177.1,406.7 L177.6,408.0 L178.1,409.2 L178.6,410.7 L180.0,412.3 L180.5,413.7 L181.0,414.7 L181.5,415.4 L183.5,415.8 L184.0,416.1 L184.5,416.7 L185.0,417.0 L187.0,417.8 L187.5,418.2 L188.0,418.4 L188.5,418.6 L189.0,418.7 L190.5,418.9 L191.0,418.8 L191.4,418.6 L191.9,418.2 L192.4,417.7 L194.4,417.2 L194.9,416.9 L195.4,416.5 L195.9,415.9 L197.4,415.3 L197.9,414.9 L198.4,414.7 L198.9,414.3 L199.4,413.9 L200.9,413.2 L201.4,412.5 L201.9,411.9 L202.4,411.4 L202.8,411.1 L204.3,410.8 L204.8,410.0 L205.3,409.6 L205.8,409.4 L206.3,409.3 L208.3,409.4 L208.8,409.4 L209.3,409.7 L209.8,410.4 L211.3,411.4 L211.8,412.7 L212.3,414.2 L212.8,415.9 L213.3,417.5 L214.7,419.0 L215.2,420.7 L215.7,421.9 L216.2,422.7 L216.7,423.5 L218.2,423.9 L218.7,424.3 L219.2,424.6 L219.7,424.9 L220.2,425.0 L221.7,425.1 L222.2,425.5 L222.7,425.9 L223.2,426.1 L223.7,426.1 L225.2,425.7 L225.7,424.9 L226.1,424.0 L226.6,423.0 L227.1,421.7 L228.6,420.3 L229.1,418.5 L229.6,416.6 L230.1,414.4 L232.1,412.0 L232.6,409.8 L233.1,407.6 L233.6,405.4 L234.1,403.3 L235.6,400.9 L236.1,398.8 L236.6,396.9 L237.1,395.1 L237.5,393.4 L239.0,391.6 L239.5,389.9 L240.0,388.1 L240.5,386.5 L241.0,385.0 L242.5,383.8 L243.0,382.8 L243.5,381.8 L244.0,380.7 L244.5,379.8 L246.0,379.2 L246.5,378.5 L247.0,377.8 L247.5,377.2 L248.0,376.4 L249.4,376.5 L249.9,376.7 L250.4,376.8 L250.9,376.7 L251.4,376.4 L252.9,376.7 L253.4,377.2 L253.9,377.5 L254.4,377.9 L254.9,378.6 L256.4,379.4 L256.9,380.2 L257.4,380.9 L257.9,381.4 L258.4,381.7 L260.4,382.1 L260.8,382.6 L261.3,383.0 L261.8,383.4 L263.3,384.0 L263.8,384.0 L264.3,384.0 L264.8,384.0 L265.3,384.0 L266.8,384.0 L267.3,383.7 L267.8,383.8 L268.3,384.0 L268.8,384.2 L270.3,384.7 L270.8,385.3 L271.3,385.9 L271.8,386.5 L272.2,387.0 L273.7,387.6 L274.2,388.0 L274.7,388.2 L275.2,388.4 L275.7,388.5 L277.7,388.7 L278.2,388.6 L278.7,388.5 L279.2,388.6 L280.7,388.5 L281.2,388.1 L281.7,387.8 L282.2,387.5 L282.7,387.4 L284.1,387.6 L284.6,387.8 L285.1,387.6 L285.6,387.1 L286.1,386.2 L287.6,385.4 L288.1,384.5 L288.6,383.4 L289.1,382.4 L289.6,381.5 L291.1,380.3 L291.6,378.8 L292.1,377.3 L292.6,376.1 L293.1,374.9 L294.6,373.6 L295.0,372.1 L295.5,370.7 L296.0,369.2 L296.5,367.6 L298.0,366.2 L298.5,364.7 L299.0,363.4 L299.5,362.1 L300.0,360.7 L301.5,359.5 L302.0,358.4 L302.5,357.3 L303.0,356.3 L303.5,355.4 L305.0,354.5 L305.5,353.3 L306.0,352.0 L306.5,350.9 L306.9,350.1 L308.9,349.3 L309.4,348.6 L309.9,348.2 L310.4,347.7 L311.9,347.6 L312.4,347.9 L312.9,348.4 L313.4,349.1 L313.9,349.8 L315.4,351.0 L315.9,352.3 L316.4,353.7 L316.9,355.4 L317.4,357.1 L318.8,359.1 L319.3,360.6 L319.8,362.0 L320.3,363.3 L320.8,364.5 L322.3,365.3 L322.8,366.7 L323.3,368.4 L323.8,370.2 L324.3,371.7 L325.8,373.2 L326.3,374.9 L326.8,376.3 L327.3,377.3 L327.8,378.2 L329.3,378.7 L329.7,378.7 L330.2,378.5 L330.7,378.2 L331.2,377.9 L332.7,377.2 L333.2,376.4 L333.7,375.7 L334.2,374.9 L334.7,374.0 L336.2,372.7 L336.7,371.5 L337.2,370.5 L337.7,369.5 L338.2,368.7 L339.7,368.3 L340.2,367.6 L340.7,366.8 L341.1,366.1 L341.6,365.3 L343.1,364.2 L343.6,363.2 L344.1,362.4 L344.6,361.7 L345.1,361.0 L346.6,360.5 L347.1,360.3 L347.6,360.2 L348.6,360.0 L350.1,360.5 L350.6,360.8 L351.1,360.9 L351.6,360.8 L352.1,360.3 L353.5,359.6 L354.0,358.8 L354.5,358.1 L355.0,357.2 L355.5,356.1 L357.0,354.8 L357.5,353.3 L358.0,351.9 L358.5,350.5 L359.0,349.2 L360.5,348.2 L361.0,347.1 L361.5,346.0 L362.0,344.9 L364.0,343.6 L364.4,342.3 L364.9,340.8 L365.4,339.1 L367.4,337.7 L367.9,336.5 L368.4,334.7 L368.9,333.1 L369.4,331.8 L370.9,331.0 L371.4,330.4 L371.9,330.1 L372.4,329.8 L372.9,329.7 L374.9,329.7 L375.4,330.0 L375.8,330.6 L376.3,331.5 L377.8,332.7 L378.3,333.7 L378.8,334.4 L379.3,335.0 L379.8,335.4 L381.3,335.7 L381.8,336.1 L382.3,336.9 L382.8,337.7 L383.3,338.6 L384.8,339.7 L385.3,340.8 L385.8,342.1 L386.3,343.2 L386.8,344.5 L388.2,345.7 L388.7,346.7 L389.2,347.8 L389.7,348.8 L390.2,350.0 L392.2,351.5 L392.7,352.3 L393.2,352.7 L393.7,352.8 L395.2,352.3 L395.7,351.0 L396.2,349.8 L396.7,348.5 L397.2,347.3 L398.7,346.4 L399.1,345.8 L399.6,345.3 L400.1,344.5 L400.6,343.7 L402.1,342.8 L402.6,341.8 L403.1,340.5 L403.6,339.1 L404.1,337.7 L405.6,336.1 L406.1,334.2 L406.6,332.2 L407.1,329.9 L407.6,327.4 L409.1,324.4 L409.6,320.8 L410.1,317.7 L410.5,314.8 L411.0,312.2 L412.5,309.7 L413.0,307.2 L413.5,304.8 L414.0,302.7 L414.5,300.8 L416.0,298.8 L416.5,296.6 L417.0,294.4 L417.5,292.4 L419.5,290.0 L420.0,287.9 L420.5,286.0 L421.0,284.3 L421.5,282.7 L422.9,281.8 L423.4,281.1 L423.9,280.7 L424.4,280.7 L424.9,281.1 L426.4,281.9 L426.9,283.2 L427.4,284.4 L427.9,285.6 L428.4,286.8 L429.9,288.5 L430.4,290.5 L430.9,292.5 L431.4,294.5 L431.9,296.3 L433.4,297.8 L433.8,299.2 L434.3,300.6 L434.8,302.0 L435.3,303.4 L436.8,304.4 L437.3,305.2 L437.8,305.6 L438.3,305.7 L438.8,305.8 L440.8,305.3 L441.3,304.7 L441.8,303.9 L442.3,302.8 L443.8,301.5 L444.3,300.3 L444.8,299.6 L445.2,299.4 L445.7,300.1 L447.2,302.0 L447.7,303.6 L448.2,305.6 L448.7,307.6 L449.2,309.7 L451.2,310.9 L451.7,311.8 L452.2,312.6 L452.7,313.4 L454.2,313.8 L454.7,314.0 L455.2,314.6 L455.7,315.3 L456.2,316.5 L458.1,317.9 L458.6,319.2 L459.1,320.5 L459.6,321.8 L461.1,323.4 L461.6,325.1 L462.1,327.0 L462.6,328.4 L463.1,329.3 L464.6,330.1 L465.1,330.4 L465.6,329.4 L466.1,328.0 L466.6,326.1 L468.0,323.5 L468.5,320.7 L469.0,318.9 L469.5,317.3 L470.0,315.7 L471.5,313.9 L472.0,312.6 L472.5,311.3 L473.0,310.5 L473.5,309.5 L475.0,308.1 L475.5,306.4 L476.0,304.6 L476.5,302.5 L477.0,300.2 L478.5,297.5 L479.0,294.6 L479.5,291.6 L479.9,288.7 L480.4,286.0 L481.9,283.2 L482.4,280.1 L482.9,277.4 L483.4,274.8 L483.9,272.6 L485.4,271.5 L485.9,270.8 L486.4,270.2 L486.9,269.7 L487.4,269.3 L489.4,268.2 L489.9,267.1 L490.4,265.9 L490.9,264.6 L492.3,263.5 L492.8,263.0 L493.3,263.0 L493.8,263.4 L494.3,264.0 L495.8,264.7 L496.3,265.9 L496.8,267.4 L497.3,269.3 L497.8,271.2 L499.3,273.7 L499.8,276.7 L500.3,280.0 L500.8,283.9 L501.3,287.3 L502.7,290.2 L503.2,293.1 L503.7,296.0 L504.2,299.3 L504.7,303.1 L506.2,307.5 L506.7,312.8 L507.2,318.4 L507.7,323.8 L508.2,328.9 L509.7,333.2 L510.2,337.7 L510.7,342.3 L511.2,346.4 L511.7,350.3 L513.2,353.8 L513.7,356.5 L514.1,358.5 L514.6,360.3 L515.1,362.0 L516.6,363.0 L517.1,363.5 L517.6,363.4 L518.1,363.1 L518.6,363.1 L520.1,363.4 L520.6,362.9 L521.1,362.1 L521.6,360.9 L522.1,359.4 L523.6,357.3 L524.1,354.7 L524.6,352.2 L525.1,350.1 L525.6,348.3 L527.0,346.4 L527.5,344.0 L528.0,341.0 L529.0,338.2 L530.5,335.6 L531.0,333.3 L531.5,331.3 L532.0,330.0 L532.5,328.7 L534.0,327.4 L534.5,325.7 L535.0,324.0 L535.5,322.3 L536.0,320.3 L537.4,318.1 L537.9,316.3 L538.4,314.9 L538.9,314.0 L539.4,312.9 L540.9,312.0 L541.4,311.1 L541.9,310.3 L542.4,309.3 L542.9,308.2 L544.9,307.0 L545.4,306.5 L545.9,306.1 L546.4,306.0 L548.4,306.1 L548.8,305.9 L549.3,305.9 L549.8,305.7 L551.3,305.2 L551.8,304.6 L552.3,304.0 L552.8,303.7 L553.3,303.6 L555.3,303.7 L555.8,304.3 L556.3,305.3 L556.8,306.0 L558.3,306.5 L558.8,306.8 L559.3,307.2 L559.8,307.6 L560.2,308.1 L561.7,308.7 L562.2,309.3 L562.7,310.1 L563.2,311.0 L563.7,312.0 L565.2,312.9 L565.7,313.6 L566.2,314.4 L566.7,315.9 L567.2,317.4 L568.7,318.5 L569.2,319.8 L569.7,321.3 L570.2,322.7 L570.7,324.0 L572.6,325.7 L573.1,327.3 L573.6,328.7 L574.1,329.8 L575.6,331.4 L576.1,333.4 L576.6,335.2 L577.1,336.7 L577.6,337.6 L579.1,338.8 L579.6,340.2 L580.1,341.8 L580.6,343.3 L581.1,344.5 L582.6,345.1 L583.1,345.5 L583.5,345.7 L584.0,345.9 L584.5,345.8 L586.0,346.2 L586.5,347.4 L587.0,348.8 L587.5,349.9 L588.0,350.5 L589.5,350.8 L590.0,350.5 L590.5,350.0 L591.0,349.5 L591.5,348.8 L593.0,347.1 L593.5,344.8 L594.0,342.7 L594.5,341.0 L596.4,339.8 L596.9,338.3 L597.4,336.7 L597.9,334.9 L598.4,332.9 L599.9,331.2 L600.4,330.0 L600.9,329.1 L601.4,328.2 L601.9,327.0 L603.4,325.8 L603.9,324.4 L604.4,322.8 L604.9,320.9 L605.4,319.4 L606.8,318.5 L607.3,317.9 L607.8,317.4 L608.3,317.0 L608.8,316.5 L610.3,315.8 L610.8,315.8 L611.3,316.2 L611.8,316.7 L612.3,317.2 L613.8,318.2 L614.3,319.3 L614.8,320.4 L615.3,321.6 L615.8,322.9 L617.3,324.2 L617.8,325.8 L618.2,327.5 L618.7,329.3 L619.2,331.2 L621.2,332.9 L621.7,334.4 L622.2,335.8 L622.7,337.1 L624.2,338.0 L624.7,338.6 L625.2,339.2 L625.7,339.7 L626.2,340.3 L627.7,341.2 L628.2,342.3 L628.7,343.3 L629.2,344.0 L629.6,344.4 L631.6,345.2 L632.1,345.3 L632.6,345.3 L633.1,345.3 L634.6,345.5 L635.1,345.7 L635.6,345.6 L636.1,345.2 L636.6,344.5 L638.1,344.0 L639.1,343.3 L639.6,342.5 L640.1,341.6 L641.5,340.6 L642.0,339.8 L642.5,339.5 L643.0,339.4 L643.5,339.4 L645.0,339.6 L645.5,339.8 L646.0,338.8 L646.5,337.8 L647.0,336.9 L648.5,336.2 L649.0,335.5 L649.5,334.8 L650.0,334.3 L650.5,333.8 L652.0,333.7 L652.4,333.7 L652.9,333.7 L653.4,334.2 L653.9,334.7 L655.4,335.3 L655.9,335.6 L656.4,336.1 L656.9,336.9 L657.4,337.9 L658.9,339.3 L659.4,340.8 L659.9,342.0 L660.4,343.2 L660.9,344.3 L662.4,345.2 L662.9,346.0 L663.4,347.8 L663.9,349.6 L664.3,351.4 L665.8,353.2 L666.3,355.1 L666.8,356.8 L667.3,358.3 L667.8,359.9 L669.8,361.2 L670.3,362.2 L670.8,362.8 L671.3,363.1 L672.8,362.9 L673.3,362.6 L673.8,362.4 L674.3,362.1 L674.8,361.8 L676.2,361.5 L676.7,361.1 L677.2,360.7 L677.7,360.4 L678.2,360.3 L679.7,360.4 L680.2,361.2 L680.7,362.6 L681.2,364.1 L681.7,365.9 L683.2,368.4 L683.7,370.9 L684.2,373.0 L684.7,374.9 L685.2,376.6 L686.7,377.5 L687.1,378.5 L687.6,379.7 L688.1,381.1 L688.6,382.3 L690.1,384.2 L690.6,386.3 L691.1,388.6 L691.6,391.0 L692.1,393.5 L693.6,395.2 L694.1,396.7 L694.6,398.1 L695.1,399.4 L695.6,400.7 L697.1,401.1 L697.6,400.8 L698.1,399.8 L698.5,398.7 L699.0,397.3 L700.5,395.7 L701.0,394.3 L701.5,393.3 L702.0,392.4 L702.5,391.7 L704.0,390.9 L704.5,389.9 L705.0,388.6 L705.5,387.4 L706.0,386.3 L707.5,385.0 L708.0,383.5 L708.5,382.0 L709.5,380.4 L710.9,378.5 L711.4,377.3 L711.9,376.1 L712.4,374.9 L712.9,373.6 L714.4,372.3 L714.9,371.5 L715.4,370.7 L715.9,370.1 L716.4,369.3 L717.9,368.2 L718.4,366.2 L718.9,364.4 L719.4,362.7 L719.9,361.2 L721.4,359.8 L721.8,359.1 L722.3,358.4 L722.8,357.9 L723.3,357.3 L725.3,356.6 L725.8,356.1 L726.3,355.5 L726.8,354.8 L728.8,353.9 L729.3,353.0 L729.8,352.1 L730.3,351.3 L731.8,350.4 L732.3,349.8 L732.8,349.4 L733.2,349.1 L733.7,349.2 L735.7,349.8 L736.2,350.6 L736.7,351.9 L737.2,353.6 L738.7,355.3 L739.2,356.7 L739.7,357.7 L740.2,358.4 L740.7,358.9 L742.2,359.1 L742.7,359.3 L743.2,359.9 L743.7,360.7 L744.2,361.7 L745.6,363.0 L746.1,364.4 L746.6,366.1 L747.1,367.8 L747.6,369.5 L749.1,371.1 L749.6,372.5 L750.1,373.7 L750.6,374.7 L751.1,375.6 L753.1,376.0 L753.6,375.8 L754.1,375.5 L754.6,375.5 L756.1,375.4 L756.5,374.9 L757.0,374.2 L757.5,373.6 L758.0,373.1 L759.5,372.5 L760.0,372.1 L760.5,371.6 L761.0,370.8 L761.5,369.8 L763.0,368.6 L763.5,367.4 L764.0,366.1 L764.5,364.8 L765.0,363.5 L766.5,361.9 L767.0,360.5 L767.5,359.2 L767.9,357.9 L768.4,356.7 L769.9,355.0 L770.4,353.4 L770.9,351.8 L771.4,350.2 L773.4,348.6 L773.9,346.8 L774.4,345.1 L774.9,343.7 L775.4,342.1 L776.9,340.6 L777.4,339.6 L777.9,338.8 L778.4,338.4 L778.9,338.1 L780.3,338.3 L780.8,338.0 L781.3,337.4 L781.8,336.4 L782.3,335.3 L783.8,333.8 L784.3,332.8 L784.8,331.9 L785.3,330.9 L785.8,329.9 L787.3,328.3 L787.8,327.1 L788.3,326.0 L788.8,324.8 L789.3,323.5 L790.7,321.6 L791.2,319.3 L791.7,317.0 L792.2,314.7 L792.7,312.5 L794.2,310.2 L794.7,307.5 L795.2,304.6 L795.7,301.5 L796.2,298.3 L797.7,294.6 L798.2,291.6 L798.7,289.0 L799.2,286.9 L799.7,285.0 L801.7,282.9 L802.2,280.7 L802.6,278.3 L803.1,276.1 L804.6,274.5 L805.1,273.6 L805.6,272.9 L806.1,272.1 L806.6,271.2 L808.1,270.6 L808.6,270.7 L809.1,271.2 L809.6,271.7 L810.1,272.3 L811.6,273.2 L812.1,274.2 L813.1,275.3 L813.6,276.4 L815.0,277.3 L815.5,278.4 L816.0,280.0 L816.5,281.3 L817.0,282.5 L818.5,283.4 L819.0,284.3 L819.5,285.5 L820.5,286.8 L822.0,287.9 L822.5,288.6 L823.0,288.6 L823.5,287.9 L824.0,287.6 L825.4,287.7 L825.9,287.7 L826.4,287.5 L826.9,287.1 L827.4,286.6 L828.9,285.9 L829.4,285.3 L829.9,284.3 L830.4,283.5 L830.9,282.6 L832.4,281.4 L832.9,280.3 L833.4,279.0 L833.9,277.4 L834.4,275.8 L835.9,273.7 L836.4,271.5 L836.8,269.4 L837.3,267.4 L837.8,265.3 L839.3,263.4 L839.8,261.6 L840.3,260.0 L840.8,258.6 L841.3,256.9 L842.8,254.8 L843.3,252.7 L843.8,250.6 L844.3,248.6 L844.8,246.7 L846.3,245.0 L846.8,243.2 L847.3,241.5 L847.8,239.6 L848.3,237.8 L850.2,236.2 L850.7,234.8 L851.2,233.4 L851.7,231.9 L853.2,230.2 L853.7,228.5 L854.2,226.8 L854.7,224.9 L855.2,223.0 L856.7,221.3 L857.2,219.9 L857.7,218.2 L858.2,216.1 L858.7,214.0 L860.1,211.8 L860.6,209.9 L861.1,208.0 L861.6,206.3 L862.1,204.4 L863.6,202.1 L864.1,199.8 L864.6,197.4 L865.1,195.1 L865.6,193.1 L867.1,191.5 L867.6,190.1 L868.1,188.8 L868.6,187.2 L869.1,185.6 L870.6,183.5 L871.1,181.7 L871.5,180.3 L872.0,179.3 L872.5,178.2 L874.0,176.6 L874.5,174.9 L875.0,173.6 L875.5,173.1 L876.0,173.1 L877.5,173.1 L878.0,172.9 L878.5,173.1 L879.0,173.3 L879.5,174.0 L881.0,175.5 L881.5,176.7 L882.0,177.7 L882.5,178.6 L882.9,179.3 L884.4,179.7 L884.9,180.2 L885.4,180.5 L885.9,180.7 L886.4,180.8 L887.9,181.1 L888.4,181.3 L888.9,181.2 L889.4,180.8 L889.9,180.6 L891.4,180.4 L891.9,180.0 L892.4,179.7 L893.4,179.0 L894.8,178.5 L895.3,178.3 L895.8,178.3 L896.3,177.9 L896.8,177.7 L898.3,177.8 L898.8,177.7 L899.3,177.8 L899.8,178.3 L900.3,178.8 L901.8,180.0 L902.3,181.4 L902.8,182.6 L903.3,183.4 L903.8,184.3 L905.3,185.3 L905.8,186.8 L906.7,188.8 L907.2,190.8 L908.7,192.6 L909.2,194.5 L910.2,196.5 L910.7,198.5 L912.2,200.8 L912.7,203.1 L913.2,204.8 L914.2,206.4 L915.7,207.9 L916.2,208.9 L916.7,209.4 L917.2,208.9 L917.6,208.0 L919.6,207.1 L920.1,206.3 L920.6,205.5 L921.1,204.4 L922.6,203.2 L923.1,202.0 L923.6,200.9 L924.1,200.1 L924.6,199.3 L926.1,198.6 L926.6,197.8 L927.1,197.0 L927.6,196.2 L928.1,195.3 L929.5,194.5 L930.0,193.6 L930.5,192.4 L931.0,191.1 L931.5,189.8 L933.5,188.2 L934.0,186.6 L934.5,185.4 L935.0,184.5 L936.5,184.2 L937.0,184.2 L937.5,184.4 L938.0,184.6 L938.5,184.9 L940.0,184.6 L940.5,184.8 L940.9,185.5 L941.4,186.1 L941.9,186.6 L943.4,186.9 L943.9,187.0 L944.4,186.9 L944.9,186.7 L945.4,186.4 L946.9,186.4 L947.4,186.5 L947.9,186.7 L948.4,186.7 L948.9,186.7 L950.4,187.4 L950.9,188.4 L951.4,189.1 L951.9,189.7 L952.3,190.1 L953.8,190.0 L954.3,189.8 L954.8,190.0 L955.3,190.9 L955.8,191.8 L957.3,193.7 L957.8,194.6 L958.3,194.8 L958.8,195.0 L959.3,195.2 L960.8,195.2 L961.3,195.1 L961.8,195.2 L962.3,195.4 L964.2,196.0 L964.7,195.9 L965.2,195.8 L965.7,195.7 L966.2,195.7 L967.7,195.6 L968.2,194.7 L968.7,193.8 L969.2,193.1 L969.7,192.6 L971.2,191.9 L971.7,191.4 L972.2,191.0 L972.7,190.0 L973.2,188.4 L974.7,186.3 L975.2,183.1 L975.6,179.9 L976.1,177.0 L976.6,174.3 L978.1,172.1 L978.6,170.6 L979.1,169.6 L979.6,168.3 L980.1,166.9 L982.1,165.3 L982.6,164.2 L983.1,162.9 L983.6,161.5 L985.1,160.4 L985.6,159.6 L986.1,159.0 L986.6,158.4 L987.0,157.8 L988.5,156.9 L989.0,156.2 L989.5,155.9 L990.0,155.6 L990.5,155.2 L992.0,155.0 L992.5,154.9 L993.0,155.0 L994.0,155.1 L995.5,155.5 L996.0,155.9 L996.5,156.1 L997.0,155.7 L997.5,154.8 L998.9,154.3 L999.4,154.1 L999.9,153.8 L1000.4,153.5 L1002.4,153.0 L1002.9,152.6 L1003.4,152.1 L1003.9,151.5 L1004.4,150.7 L1005.9,149.9 L1006.4,149.1 L1006.9,148.4 L1007.4,147.3 L1007.9,146.1 L1009.4,144.5 L1009.8,142.9 L1010.3,141.2 L1010.8,139.7 L1011.3,138.5 L1012.8,137.0 L1013.3,135.1 L1013.8,133.1 L1014.3,131.0 L1014.8,128.9 L1016.3,126.9 L1016.8,125.1 L1017.3,123.3 L1017.8,121.5 L1018.3,119.7 L1019.8,118.1 L1020.3,116.8 L1020.8,115.4 L1021.3,114.1 L1021.7,112.6 L1023.2,111.2 L1023.7,110.0 L1024.2,109.2 L1024.7,108.6 L1025.2,108.1 L1026.7,108.2 L1027.2,108.3 L1027.7,108.4 L1028.2,108.3 L1028.7,108.1 L1030.7,108.8 L1031.2,109.6 L1031.7,110.6 L1032.2,111.9 L1033.6,113.0 L1034.1,113.9 L1034.6,114.6 L1035.1,114.8 L1035.6,114.9 L1037.1,115.7 L1037.6,116.4 L1038.1,117.0 L1038.6,117.3 L1039.1,117.5 L1040.6,117.3 L1041.1,117.1 L1041.6,116.6 L1042.1,115.8 L1042.6,114.9 L1044.1,113.6 L1044.5,111.9 L1045.0,110.0 L1045.5,107.7 L1046.0,105.3 L1047.5,102.5 L1048.0,99.5 L1048.5,96.4 L1049.0,93.5 L1049.5,90.3 L1051.0,86.5 L1051.5,83.2 L1052.0,80.1 L1052.5,77.4 L1053.0,74.8 L1054.5,71.9 L1055.0,69.2 L1055.5,66.7 L1055.9,64.2 L1056.4,61.7 L1057.9,59.9 L1058.4,58.4 L1058.9,57.2 L1059.4,56.2 L1059.9,55.3 L1061.4,55.1 L1061.9,55.1 L1062.4,55.0 L1062.9,55.0 L1063.4,54.9 L1064.9,55.2 L1065.4,55.7 L1065.9,56.3 L1066.4,57.0 L1066.9,57.5 L1068.3,59.2 L1068.8,60.7 L1069.3,62.3 L1069.8,63.4 L1070.3,64.4 L1071.8,64.9 L1072.3,65.2 L1072.8,65.1 L1073.8,65.4 L1075.3,66.5 L1075.8,67.6 L1076.3,68.6 L1076.8,69.7 L1077.3,71.0 L1078.8,72.3 L1079.2,73.3 L1079.7,74.3 L1080.2,75.4 L1080.7,76.7 L1082.2,78.3 L1082.7,79.9 L1083.2,81.5 L1083.7,83.0 L1084.2,84.2 L1085.7,85.3 L1086.2,86.4 L1086.7,87.2 L1087.7,87.9 L1089.2,88.6 L1089.7,89.5 L1090.2,90.7 L1091.1,91.9 L1092.6,93.5 L1093.1,95.0" stroke="#ff0000" stroke-width="2.08" fill="none" stroke-linejoin="round"/>
<path d="M249.4,415.2 L249.9,414.9 L250.4,414.7 L250.9,414.4 L251.4,414.1 L252.9,413.9 L253.4,413.6 L253.9,413.3 L254.4,413.0 L254.9,412.8 L256.4,412.5 L256.9,412.3 L257.4,412.1 L257.9,411.8 L258.4,411.5 L260.4,411.3 L260.8,411.1 L261.3,410.8 L261.8,410.5 L263.3,410.2 L263.8,409.9 L264.3,409.6 L264.8,409.2 L265.3,408.8 L266.8,408.4 L267.3,408.1 L267.8,407.8 L268.3,407.6 L268.8,407.3 L270.3,407.1 L270.8,406.8 L271.3,406.6 L271.8,406.3 L272.2,406.0 L273.7,405.7 L274.2,405.4 L274.7,405.2 L275.2,404.9 L275.7,404.6 L277.7,404.3 L278.2,403.9 L278.7,403.6 L279.2,403.2 L280.7,402.8 L281.2,402.4 L281.7,402.0 L282.2,401.7 L282.7,401.4 L284.1,401.1 L284.6,400.9 L285.1,400.6 L285.6,400.4 L286.1,400.3 L287.6,400.1 L288.1,399.9 L288.6,399.7 L289.1,399.5 L289.6,399.3 L291.1,399.1 L291.6,398.9 L292.1,398.6 L292.6,398.4 L293.1,398.2 L294.6,398.0 L295.0,397.8 L295.5,397.5 L296.0,397.3 L296.5,396.9 L298.0,396.6 L298.5,396.2 L299.0,395.9 L299.5,395.6 L300.0,395.3 L301.5,395.0 L302.0,394.8 L302.5,394.6 L303.0,394.4 L303.5,394.2 L305.0,394.0 L305.5,393.8 L306.0,393.6 L306.5,393.3 L306.9,393.1 L308.9,392.8 L309.4,392.4 L309.9,392.1 L310.4,391.9 L311.9,391.7 L312.4,391.4 L312.9,391.2 L313.4,391.0 L313.9,390.8 L315.4,390.6 L315.9,390.4 L316.4,390.2 L316.9,390.1 L317.4,389.9 L318.8,389.7 L319.3,389.6 L319.8,389.5 L320.3,389.3 L320.8,389.1 L322.3,388.9 L322.8,388.7 L323.3,388.5 L323.8,388.3 L324.3,388.1 L325.8,387.9 L326.3,387.7 L326.8,387.5 L327.3,387.3 L327.8,387.1 L329.3,386.9 L329.7,386.6 L330.2,386.3 L330.7,386.0 L331.2,385.7 L332.7,385.4 L333.2,385.1 L333.7,384.8 L334.2,384.6 L334.7,384.4 L336.2,384.1 L336.7,383.9 L337.2,383.7 L337.7,383.4 L338.2,383.2 L339.7,383.0 L340.2,382.8 L340.7,382.5 L341.1,382.3 L341.6,382.0 L343.1,381.8 L343.6,381.5 L344.1,381.3 L344.6,381.1 L345.1,380.8 L346.6,380.6 L347.1,380.3 L347.6,380.1 L348.6,379.8 L350.1,379.6 L350.6,379.4 L351.1,379.0 L351.6,378.7 L352.1,378.3 L353.5,377.9 L354.0,377.4 L354.5,376.9 L355.0,376.3 L355.5,375.8 L357.0,375.2 L357.5,374.6 L358.0,374.0 L358.5,373.5 L359.0,373.0 L360.5,372.5 L361.0,372.1 L361.5,371.7 L362.0,371.3 L364.0,370.9 L364.4,370.5 L364.9,370.0 L365.4,369.5 L367.4,369.1 L367.9,368.6 L368.4,368.2 L368.9,367.9 L369.4,367.5 L370.9,367.2 L371.4,366.9 L371.9,366.6 L372.4,366.3 L372.9,366.0 L374.9,365.7 L375.4,365.5 L375.8,365.3 L376.3,365.1 L377.8,365.0 L378.3,364.8 L378.8,364.7 L379.3,364.6 L379.8,364.4 L381.3,364.3 L381.8,364.2 L382.3,364.1 L382.8,363.9 L383.3,363.8 L384.8,363.7 L385.3,363.5 L385.8,363.4 L386.3,363.3 L386.8,363.2 L388.2,363.1 L388.7,363.1 L389.2,363.0 L389.7,362.9 L390.2,362.8 L392.2,362.8 L392.7,362.7 L393.2,362.5 L393.7,362.3 L395.2,362.0 L395.7,361.7 L396.2,361.5 L396.7,361.2 L397.2,360.8 L398.7,360.5 L399.1,360.3 L399.6,360.0 L400.1,359.7 L400.6,359.4 L402.1,359.0 L402.6,358.7 L403.1,358.4 L403.6,358.0 L404.1,357.7 L405.6,357.4 L406.1,357.0 L406.6,356.6 L407.1,356.2 L407.6,355.8 L409.1,355.4 L409.6,354.9 L410.1,354.4 L410.5,353.9 L411.0,353.4 L412.5,352.7 L413.0,352.1 L413.5,351.5 L414.0,350.8 L414.5,350.2 L416.0,349.6 L416.5,349.0 L417.0,348.4 L417.5,347.7 L419.5,347.1 L420.0,346.5 L420.5,345.9 L421.0,345.3 L421.5,344.8 L422.9,344.4 L423.4,343.9 L423.9,343.5 L424.4,343.2 L424.9,342.9 L426.4,342.6 L426.9,342.3 L427.4,342.0 L427.9,341.7 L428.4,341.3 L429.9,341.0 L430.4,340.8 L430.9,340.5 L431.4,340.2 L431.9,339.9 L433.4,339.6 L433.8,339.3 L434.3,339.0 L434.8,338.8 L435.3,338.5 L436.8,338.1 L437.3,337.8 L437.8,337.4 L438.3,337.0 L438.8,336.7 L440.8,336.4 L441.3,336.0 L441.8,335.7 L442.3,335.4 L443.8,335.1 L444.3,334.9 L444.8,334.7 L445.2,334.5 L445.7,334.4 L447.2,334.4 L447.7,334.5 L448.2,334.5 L448.7,334.7 L449.2,334.8 L451.2,334.8 L451.7,334.7 L452.2,334.6 L452.7,334.5 L454.2,334.4 L454.7,334.2 L455.2,334.0 L455.7,333.7 L456.2,333.5 L458.1,333.2 L458.6,333.0 L459.1,332.7 L459.6,332.4 L461.1,332.1 L461.6,331.9 L462.1,331.6 L462.6,331.3 L463.1,331.0 L464.6,330.7 L465.1,330.4 L465.6,330.2 L466.1,329.9 L466.6,329.6 L468.0,329.2 L468.5,328.8 L469.0,328.4 L469.5,327.9 L470.0,327.4 L471.5,326.9 L472.0,326.4 L472.5,326.0 L473.0,325.5 L473.5,325.1 L475.0,324.6 L475.5,324.2 L476.0,323.8 L476.5,323.3 L477.0,322.8 L478.5,322.3 L479.0,321.7 L479.5,321.2 L479.9,320.6 L480.4,320.1 L481.9,319.6 L482.4,319.1 L482.9,318.7 L483.4,318.2 L483.9,317.7 L485.4,317.2 L485.9,316.8 L486.4,316.4 L486.9,316.0 L487.4,315.6 L489.4,315.0 L489.9,314.5 L490.4,314.0 L490.9,313.5 L492.3,313.0 L492.8,312.5 L493.3,312.1 L493.8,311.7 L494.3,311.2 L495.8,310.8 L496.3,310.4 L496.8,310.1 L497.3,309.8 L497.8,309.6 L499.3,309.5 L499.8,309.5 L500.3,309.5 L500.8,309.6 L501.3,309.7 L502.7,309.8 L503.2,309.9 L503.7,310.0 L504.2,310.1 L504.7,310.3 L506.2,310.6 L506.7,310.9 L507.2,311.2 L507.7,311.5 L508.2,311.8 L509.7,312.0 L510.2,312.3 L510.7,312.6 L511.2,312.9 L511.7,313.2 L513.2,313.4 L513.7,313.5 L514.1,313.5 L514.6,313.5 L515.1,313.6 L516.6,313.6 L517.1,313.7 L517.6,313.7 L518.1,313.8 L518.6,313.8 L520.1,313.8 L520.6,313.7 L521.1,313.6 L521.6,313.5 L522.1,313.4 L523.6,313.3 L524.1,313.3 L524.6,313.2 L525.1,313.2 L525.6,313.1 L527.0,313.0 L527.5,312.8 L528.0,312.6 L529.0,312.4 L530.5,312.2 L531.0,312.0 L531.5,311.7 L532.0,311.4 L532.5,311.2 L534.0,310.9 L534.5,310.6 L535.0,310.3 L535.5,310.0 L536.0,309.7 L537.4,309.4 L537.9,309.3 L538.4,309.2 L538.9,309.1 L539.4,309.0 L540.9,309.0 L541.4,308.9 L541.9,308.8 L542.4,308.7 L542.9,308.6 L544.9,308.5 L545.4,308.4 L545.9,308.4 L546.4,308.3 L548.4,308.3 L548.8,308.2 L549.3,308.2 L549.8,308.1 L551.3,308.1 L551.8,308.0 L552.3,308.0 L552.8,308.0 L553.3,308.1 L555.3,308.2 L555.8,308.4 L556.3,308.6 L556.8,308.8 L558.3,309.1 L558.8,309.3 L559.3,309.6 L559.8,309.8 L560.2,310.1 L561.7,310.3 L562.2,310.6 L562.7,310.8 L563.2,311.1 L563.7,311.5 L565.2,311.7 L565.7,312.0 L566.2,312.3 L566.7,312.5 L567.2,312.7 L568.7,312.8 L569.2,312.9 L569.7,313.0 L570.2,313.1 L570.7,313.1 L572.6,313.3 L573.1,313.4 L573.6,313.6 L574.1,313.7 L575.6,313.9 L576.1,314.2 L576.6,314.4 L577.1,314.6 L577.6,314.8 L579.1,315.0 L579.6,315.3 L580.1,315.6 L580.6,315.8 L581.1,316.2 L582.6,316.4 L583.1,316.7 L583.5,317.0 L584.0,317.3 L584.5,317.6 L586.0,317.9 L586.5,318.3 L587.0,318.7 L587.5,319.1 L588.0,319.3 L589.5,319.5 L590.0,319.7 L590.5,319.7 L591.0,319.6 L591.5,319.4 L593.0,319.1 L593.5,318.8 L594.0,318.5 L594.5,318.4 L596.4,318.3 L596.9,318.3 L597.4,318.2 L597.9,318.2 L598.4,318.2 L599.9,318.2 L600.4,318.3 L600.9,318.3 L601.4,318.3 L601.9,318.3 L603.4,318.2 L603.9,318.2 L604.4,318.2 L604.9,318.2 L605.4,318.1 L606.8,318.1 L607.3,318.1 L607.8,318.1 L608.3,318.0 L608.8,318.0 L610.3,317.9 L610.8,317.8 L611.3,317.9 L611.8,318.0 L612.3,318.2 L613.8,318.4 L614.3,318.7 L614.8,319.0 L615.3,319.3 L615.8,319.6 L617.3,320.0 L617.8,320.3 L618.2,320.7 L618.7,321.1 L619.2,321.6 L621.2,322.0 L621.7,322.5 L622.2,323.0 L622.7,323.5 L624.2,323.9 L624.7,324.4 L625.2,324.8 L625.7,325.1 L626.2,325.5 L627.7,325.9 L628.2,326.3 L628.7,326.7 L629.2,327.0 L629.6,327.2 L631.6,327.6 L632.1,327.9 L632.6,328.2 L633.1,328.6 L634.6,329.1 L635.1,329.6 L635.6,330.1 L636.1,330.5 L636.6,330.9 L638.1,331.3 L639.1,331.6 L639.6,331.8 L640.1,332.1 L641.5,332.3 L642.0,332.5 L642.5,332.7 L643.0,332.9 L643.5,333.0 L645.0,333.0 L645.5,333.0 L646.0,332.8 L646.5,332.6 L647.0,332.5 L648.5,332.4 L649.0,332.2 L649.5,332.0 L650.0,331.8 L650.5,331.5 L652.0,331.3 L652.4,331.0 L652.9,330.9 L653.4,330.7 L653.9,330.7 L655.4,330.6 L655.9,330.4 L656.4,330.3 L656.9,330.2 L657.4,330.1 L658.9,330.2 L659.4,330.3 L659.9,330.4 L660.4,330.5 L660.9,330.6 L662.4,330.7 L662.9,330.8 L663.4,330.9 L663.9,330.9 L664.3,331.0 L665.8,331.1 L666.3,331.3 L666.8,331.5 L667.3,331.6 L667.8,331.8 L669.8,332.1 L670.3,332.3 L670.8,332.4 L671.3,332.6 L672.8,332.8 L673.3,332.9 L673.8,333.1 L674.3,333.3 L674.8,333.4 L676.2,333.7 L676.7,333.9 L677.2,334.1 L677.7,334.4 L678.2,334.7 L679.7,335.0 L680.2,335.4 L680.7,335.8 L681.2,336.4 L681.7,336.9 L683.2,337.6 L683.7,338.1 L684.2,338.7 L684.7,339.2 L685.2,339.7 L686.7,340.1 L687.1,340.6 L687.6,341.1 L688.1,341.6 L688.6,342.0 L690.1,342.5 L690.6,343.0 L691.1,343.4 L691.6,343.9 L692.1,344.4 L693.6,344.8 L694.1,345.3 L694.6,345.8 L695.1,346.3 L695.6,346.7 L697.1,347.1 L697.6,347.5 L698.1,347.9 L698.5,348.2 L699.0,348.4 L700.5,348.8 L701.0,349.1 L701.5,349.5 L702.0,349.9 L702.5,350.2 L704.0,350.5 L704.5,350.7 L705.0,351.0 L705.5,351.2 L706.0,351.4 L707.5,351.6 L708.0,351.8 L708.5,352.0 L709.5,352.1 L710.9,352.2 L711.4,352.3 L711.9,352.5 L712.4,352.6 L712.9,352.8 L714.4,352.9 L714.9,353.1 L715.4,353.1 L715.9,353.2 L716.4,353.2 L717.9,353.2 L718.4,353.1 L718.9,353.0 L719.4,352.9 L719.9,352.9 L721.4,353.0 L721.8,353.0 L722.3,353.0 L722.8,353.0 L723.3,353.0 L725.3,352.9 L725.8,353.0 L726.3,353.0 L726.8,353.1 L728.8,353.1 L729.3,353.1 L729.8,353.1 L730.3,353.0 L731.8,352.8 L732.3,352.8 L732.8,352.8 L733.2,352.9 L733.7,353.0 L735.7,353.2 L736.2,353.4 L736.7,353.6 L737.2,353.9 L738.7,354.3 L739.2,354.7 L739.7,355.0 L740.2,355.3 L740.7,355.6 L742.2,355.8 L742.7,356.1 L743.2,356.3 L743.7,356.6 L744.2,356.9 L745.6,357.3 L746.1,357.6 L746.6,358.0 L747.1,358.4 L747.6,358.7 L749.1,359.0 L749.6,359.3 L750.1,359.6 L750.6,359.8 L751.1,360.1 L753.1,360.3 L753.6,360.5 L754.1,360.8 L754.6,361.1 L756.1,361.4 L756.5,361.6 L757.0,361.9 L757.5,362.1 L758.0,362.2 L759.5,362.2 L760.0,362.3 L760.5,362.3 L761.0,362.3 L761.5,362.3 L763.0,362.3 L763.5,362.3 L764.0,362.2 L764.5,362.2 L765.0,362.2 L766.5,362.1 L767.0,362.1 L767.5,362.0 L767.9,362.1 L768.4,362.1 L769.9,362.1 L770.4,362.0 L770.9,362.0 L771.4,361.9 L773.4,361.8 L773.9,361.8 L774.4,361.8 L774.9,361.8 L775.4,361.7 L776.9,361.6 L777.4,361.5 L777.9,361.5 L778.4,361.4 L778.9,361.4 L780.3,361.4 L780.8,361.4 L781.3,361.4 L781.8,361.3 L782.3,361.2 L783.8,361.1 L784.3,361.0 L784.8,361.0 L785.3,360.9 L785.8,360.8 L787.3,360.7 L787.8,360.5 L788.3,360.3 L788.8,360.1 L789.3,360.0 L790.7,359.8 L791.2,359.6 L791.7,359.4 L792.2,359.2 L792.7,358.9 L794.2,358.6 L794.7,358.2 L795.2,357.8 L795.7,357.4 L796.2,357.0 L797.7,356.5 L798.2,356.0 L798.7,355.6 L799.2,355.2 L799.7,354.8 L801.7,354.4 L802.2,353.9 L802.6,353.4 L803.1,352.9 L804.6,352.4 L805.1,352.0 L805.6,351.6 L806.1,351.2 L806.6,350.7 L808.1,350.3 L808.6,350.0 L809.1,349.6 L809.6,349.2 L810.1,348.8 L811.6,348.5 L812.1,348.1 L813.1,347.7 L813.6,347.2 L815.0,346.8 L815.5,346.4 L816.0,346.1 L816.5,345.8 L817.0,345.6 L818.5,345.3 L819.0,345.1 L819.5,344.8 L820.5,344.5 L822.0,344.2 L822.5,343.8 L823.0,343.4 L823.5,343.0 L824.0,342.5 L825.4,342.0 L825.9,341.4 L826.4,340.8 L826.9,340.1 L827.4,339.3 L828.9,338.6 L829.4,337.9 L829.9,337.1 L830.4,336.4 L830.9,335.8 L832.4,335.1 L832.9,334.4 L833.4,333.7 L833.9,333.0 L834.4,332.3 L835.9,331.5 L836.4,330.7 L836.8,329.9 L837.3,329.1 L837.8,328.3 L839.3,327.5 L839.8,326.8 L840.3,326.0 L840.8,325.2 L841.3,324.5 L842.8,323.7 L843.3,323.0 L843.8,322.2 L844.3,321.5 L844.8,320.7 L846.3,319.9 L846.8,319.1 L847.3,318.3 L847.8,317.4 L848.3,316.6 L850.2,315.9 L850.7,315.1 L851.2,314.4 L851.7,313.7 L853.2,312.9 L853.7,312.1 L854.2,311.3 L854.7,310.5 L855.2,309.6 L856.7,308.8 L857.2,308.0 L857.7,307.2 L858.2,306.3 L858.7,305.4 L860.1,304.5 L860.6,303.6 L861.1,302.7 L861.6,301.9 L862.1,301.0 L863.6,300.2 L864.1,299.3 L864.6,298.4 L865.1,297.5 L865.6,296.6 L867.1,295.7 L867.6,294.8 L868.1,294.0 L868.6,293.2 L869.1,292.3 L870.6,291.3 L871.1,290.4 L871.5,289.5 L872.0,288.6 L872.5,287.8 L874.0,286.9 L874.5,286.0 L875.0,285.1 L875.5,284.2 L876.0,283.4 L877.5,282.5 L878.0,281.6 L878.5,280.6 L879.0,279.7 L879.5,278.8 L881.0,278.0 L881.5,277.0 L882.0,276.1 L882.5,275.1 L882.9,274.2 L884.4,273.3 L884.9,272.5 L885.4,271.7 L885.9,270.8 L886.4,269.8 L887.9,268.8 L888.4,267.7 L888.9,266.6 L889.4,265.5 L889.9,264.4 L891.4,263.2 L891.9,262.1 L892.4,261.0 L893.4,259.9 L894.8,258.8 L895.3,257.8 L895.8,256.9 L896.3,255.9 L896.8,255.0 L898.3,254.1 L898.8,253.2 L899.3,252.4 L899.8,251.6 L900.3,250.8 L901.8,250.1 L902.3,249.4 L902.8,248.8 L903.3,248.1 L903.8,247.4 L905.3,246.7 L905.8,246.0 L906.7,245.4 L907.2,244.7 L908.7,244.0 L909.2,243.2 L910.2,242.5 L910.7,241.8 L912.2,241.2 L912.7,240.5 L913.2,239.9 L914.2,239.3 L915.7,238.7 L916.2,238.0 L916.7,237.4 L917.2,236.6 L917.6,235.9 L919.6,235.1 L920.1,234.4 L920.6,233.7 L921.1,233.0 L922.6,232.4 L923.1,231.7 L923.6,231.0 L924.1,230.2 L924.6,229.4 L926.1,228.6 L926.6,227.9 L927.1,227.2 L927.6,226.6 L928.1,225.9 L929.5,225.3 L930.0,224.6 L930.5,223.9 L931.0,223.2 L931.5,222.5 L933.5,221.9 L934.0,221.3 L934.5,220.6 L935.0,220.0 L936.5,219.5 L937.0,219.0 L937.5,218.6 L938.0,218.1 L938.5,217.7 L940.0,217.3 L940.5,217.0 L940.9,216.8 L941.4,216.5 L941.9,216.2 L943.4,215.9 L943.9,215.6 L944.4,215.2 L944.9,214.7 L945.4,214.3 L946.9,213.9 L947.4,213.5 L947.9,213.1 L948.4,212.7 L948.9,212.2 L950.4,211.8 L950.9,211.3 L951.4,210.9 L951.9,210.4 L952.3,209.9 L953.8,209.4 L954.3,208.8 L954.8,208.3 L955.3,208.0 L955.8,207.6 L957.3,207.3 L957.8,207.0 L958.3,206.6 L958.8,206.2 L959.3,205.8 L960.8,205.3 L961.3,204.8 L961.8,204.2 L962.3,203.7 L964.2,203.2 L964.7,202.7 L965.2,202.1 L965.7,201.6 L966.2,201.1 L967.7,200.6 L968.2,200.1 L968.7,199.6 L969.2,199.1 L969.7,198.5 L971.2,198.0 L971.7,197.4 L972.2,196.9 L972.7,196.4 L973.2,195.8 L974.7,195.3 L975.2,194.7 L975.6,194.1 L976.1,193.6 L976.6,193.0 L978.1,192.5 L978.6,192.0 L979.1,191.5 L979.6,191.1 L980.1,190.6 L982.1,190.2 L982.6,189.8 L983.1,189.3 L983.6,188.9 L985.1,188.4 L985.6,188.0 L986.1,187.7 L986.6,187.3 L987.0,186.9 L988.5,186.6 L989.0,186.2 L989.5,185.8 L990.0,185.5 L990.5,185.1 L992.0,184.8 L992.5,184.5 L993.0,184.1 L994.0,183.8 L995.5,183.5 L996.0,183.1 L996.5,182.8 L997.0,182.4 L997.5,182.1 L998.9,181.8 L999.4,181.5 L999.9,181.3 L1000.4,181.1 L1002.4,180.8 L1002.9,180.4 L1003.4,180.2 L1003.9,180.0 L1004.4,179.8 L1005.9,179.6 L1006.4,179.3 L1006.9,179.1 L1007.4,178.8 L1007.9,178.6 L1009.4,178.3 L1009.8,178.0 L1010.3,177.8 L1010.8,177.6 L1011.3,177.3 L1012.8,177.0 L1013.3,176.6 L1013.8,176.2 L1014.3,175.8 L1014.8,175.3 L1016.3,175.0 L1016.8,174.7 L1017.3,174.4 L1017.8,174.1 L1018.3,173.8 L1019.8,173.5 L1020.3,173.2 L1020.8,172.9 L1021.3,172.6 L1021.7,172.2 L1023.2,171.8 L1023.7,171.5 L1024.2,171.1 L1024.7,170.7 L1025.2,170.3 L1026.7,169.9 L1027.2,169.5 L1027.7,169.1 L1028.2,168.8 L1028.7,168.4 L1030.7,168.1 L1031.2,167.8 L1031.7,167.4 L1032.2,167.1 L1033.6,166.9 L1034.1,166.6 L1034.6,166.4 L1035.1,166.1 L1035.6,165.8 L1037.1,165.6 L1037.6,165.5 L1038.1,165.3 L1038.6,165.1 L1039.1,164.9 L1040.6,164.6 L1041.1,164.2 L1041.6,163.8 L1042.1,163.3 L1042.6,162.9 L1044.1,162.3 L1044.5,161.6 L1045.0,161.0 L1045.5,160.3 L1046.0,159.6 L1047.5,158.7 L1048.0,157.9 L1048.5,157.0 L1049.0,156.2 L1049.5,155.4 L1051.0,154.5 L1051.5,153.6 L1052.0,152.8 L1052.5,151.9 L1053.0,151.1 L1054.5,150.3 L1055.0,149.6 L1055.5,148.8 L1055.9,148.0 L1056.4,147.2 L1057.9,146.4 L1058.4,145.7 L1058.9,144.9 L1059.4,144.3 L1059.9,143.6 L1061.4,143.1 L1061.9,142.5 L1062.4,142.0 L1062.9,141.4 L1063.4,140.7 L1064.9,140.1 L1065.4,139.4 L1065.9,138.8 L1066.4,138.2 L1066.9,137.6 L1068.3,137.0 L1068.8,136.4 L1069.3,135.8 L1069.8,135.2 L1070.3,134.6 L1071.8,134.0 L1072.3,133.4 L1072.8,132.8 L1073.8,132.2 L1075.3,131.6 L1075.8,131.2 L1076.3,130.7 L1076.8,130.3 L1077.3,130.0 L1078.8,129.6 L1079.2,129.2 L1079.7,128.8 L1080.2,128.4 L1080.7,127.9 L1082.2,127.4 L1082.7,127.0 L1083.2,126.5 L1083.7,126.0 L1084.2,125.5 L1085.7,124.9 L1086.2,124.4 L1086.7,123.9 L1087.7,123.5 L1089.2,123.0 L1089.7,122.5 L1090.2,122.1 L1091.1,121.6 L1092.6,121.1 L1093.1,120.7" stroke="#800080" stroke-width="2.08" fill="none" stroke-linejoin="round"/>
<path d="M185.5,485.5 v5 M366.5,485.5 v5 M547.5,485.5 v5 M728.5,485.5 v5 M909.5,485.5 v5 M1090.5,485.5 v5 M57.5,450.5 h-5.5 M57.5,350.5 h-5.5 M57.5,251.5 h-5.5 M57.5,152.5 h-5.5 M57.5,53.5 h-5.5" stroke="#000" stroke-width="1" fill="none" shape-rendering="crispEdges"/>
<rect x="57.5" y="9.5" width="1085.0" height="476.0" fill="none" stroke="#000" stroke-width="1" shape-rendering="crispEdges"/>
</g>
<text x="31.7" y="455.4" font-size="13.2" fill="#000" textLength="14.5" lengthAdjust="spacingAndGlyphs">25</text>
<text x="31.7" y="355.4" font-size="13.2" fill="#000" textLength="14.5" lengthAdjust="spacingAndGlyphs">30</text>
<text x="31.7" y="256.4" font-size="13.2" fill="#000" textLength="14.5" lengthAdjust="spacingAndGlyphs">35</text>
<text x="31.7" y="157.4" font-size="13.2" fill="#000" textLength="14.5" lengthAdjust="spacingAndGlyphs">40</text>
<text x="31.7" y="58.4" font-size="13.2" fill="#000" textLength="14.5" lengthAdjust="spacingAndGlyphs">45</text>
<g id="legend">
<rect x="64.5" y="16.2" width="107.8" height="120" rx="3" ry="3" fill="#fff" fill-opacity="0.8" stroke="#ccc" stroke-opacity="0.8" stroke-width="1.1"/>
<path d="M69.4,25.9 H97.8" stroke="#000" stroke-width="2.08"/>
<path d="M69.4,46.1 H97.8" stroke="#008000" stroke-width="2.08"/>
<path d="M69.4,66.8 H97.8" stroke="#ff0000" stroke-width="2.08"/>
<path d="M69.4,86.1 H97.8" stroke="#800080" stroke-width="2.08"/>
<path d="M84.4,95.6 L74.0,116.4 L94.8,116.4 Z" fill="#008000"/>
<path d="M84.4,134.8 L74.0,114.0 L94.8,114.0 Z" fill="#ff0000"/>
<text x="109.4" y="32.0" font-size="12" fill="#000" textLength="31.7" lengthAdjust="spacingAndGlyphs">Close</text>
<text font-size="12"><tspan x="109.4" y="52.1" textLength="37.9" lengthAdjust="spacingAndGlyphs">MA50[</tspan><tspan x="148.0" y="52.9" font-size="13.4">买</tspan><tspan x="162.5" y="52.1" textLength="3.3" lengthAdjust="spacingAndGlyphs">]</tspan></text>
<text font-size="12"><tspan x="109.4" y="73.0" textLength="37.9" lengthAdjust="spacingAndGlyphs">MA25[</tspan><tspan x="148.0" y="73.8" font-size="13.4">卖</tspan><tspan x="162.5" y="73.0" textLength="3.3" lengthAdjust="spacingAndGlyphs">]</tspan></text>
<text x="109.4" y="91.6" font-size="12" fill="#000" textLength="42.0" lengthAdjust="spacingAndGlyphs">MA200</text>
<text x="109.4" y="110.2" font-size="12" fill="#000" textLength="20.4" lengthAdjust="spacingAndGlyphs">Buy</text>
<text x="109.4" y="128.6" font-size="12" fill="#000" textLength="21.1" lengthAdjust="spacingAndGlyphs">Sell</text>
</g>
<g id="note">
<rect x="942.4" y="375.5" width="182.8" height="89.8" rx="4.5" ry="4.5" fill="#fff" fill-opacity="0.9" stroke="#1a8c1a" stroke-width="1.39"/>
<text x="968.0" y="391.2" font-size="15.3" fill="#1a8c1a" textLength="152.2" lengthAdjust="spacingAndGlyphs">42.89 (+0.20 +0.47%)</text>
<text x="1031.2" y="408.5" font-size="15.3" fill="#1a8c1a" textLength="89.0" lengthAdjust="spacingAndGlyphs">34.78~46.54</text>
<text x="983.1" y="424.6" font-size="15.3" fill="#1a8c1a" textLength="137.1" lengthAdjust="spacingAndGlyphs">42.84/43.61/41.51</text>
<text x="992.8" y="440.4" font-size="15.3" fill="#1a8c1a" textLength="127.4" lengthAdjust="spacingAndGlyphs">2026-01-06 05:00</text>
<text fill="#1a8c1a" font-size="15.3"><tspan x="946.8" y="458.6" textLength="45.3" lengthAdjust="spacingAndGlyphs">-0.98/</tspan><tspan x="992.7" y="459.4" font-size="14.2">偏空</tspan><tspan x="1021.3" y="458.6" textLength="99.1" lengthAdjust="spacingAndGlyphs">/+0.48/+0.06</tspan></text>
</g>
<g id="volume">
<path d="M106,659.5 V636.8 h1 V659.5Z M107,659.5 V635.6 h1 V659.5Z M108,659.5 V625.2 h1 V659.5Z M110,659.5 V647.3 h1 V659.5Z M111,659.5 V647.7 h1 V659.5Z M113,659.5 V638.7 h1 V659.5Z M114,659.5 V634.9 h1 V659.5Z M115,659.5 V645.7 h1 V659.5Z M117,659.5 V643.6 h1 V659.5Z M118,659.5 V640.3 h1 V659.5Z M120,659.5 V641.3 h1 V659.5Z M121,659.5 V637.8 h1 V659.5Z M122,659.5 V632.3 h1 V659.5Z M124,659.5 V625.7 h1 V659.5Z M125,659.5 V632.8 h1 V659.5Z M128,659.5 V618.4 h1 V659.5Z M129,659.5 V620.5 h1 V659.5Z M131,659.5 V637.1 h1 V659.5Z M132,659.5 V647.2 h1 V659.5Z M134,659.5 V631.4 h1 V659.5Z M135,659.5 V640.7 h1 V659.5Z M136,659.5 V642.1 h1 V659.5Z M138,659.5 V646.1 h1 V659.5Z M139,659.5 V635.1 h1 V659.5Z M141,659.5 V639.4 h1 V659.5Z M142,659.5 V636.2 h1 V659.5Z M143,659.5 V628.8 h1 V659.5Z M145,659.5 V641.0 h1 V659.5Z M146,659.5 V633.4 h1 V659.5Z M148,659.5 V629.9 h1 V659.5Z M163,659.5 V625.2 h1 V659.5Z M165,659.5 V649.5 h1 V659.5Z M166,659.5 V646.2 h1 V659.5Z M167,659.5 V649.0 h1 V659.5Z M169,659.5 V561.5 h1 V659.5Z M170,659.5 V643.6 h1 V659.5Z M172,659.5 V618.4 h1 V659.5Z M173,659.5 V642.9 h1 V659.5Z M174,659.5 V645.7 h1 V659.5Z M176,659.5 V634.5 h1 V659.5Z M177,659.5 V633.7 h1 V659.5Z M179,659.5 V640.5 h1 V659.5Z M180,659.5 V648.1 h1 V659.5Z M183,659.5 V641.7 h1 V659.5Z M184,659.5 V647.1 h1 V659.5Z M186,659.5 V625.2 h1 V659.5Z M187,659.5 V650.9 h1 V659.5Z M188,659.5 V648.5 h1 V659.5Z M190,659.5 V625.2 h1 V659.5Z M191,659.5 V645.2 h1 V659.5Z M194,659.5 V549.9 h1 V659.5Z M195,659.5 V645.4 h1 V659.5Z M197,659.5 V650.1 h1 V659.5Z M198,659.5 V641.8 h1 V659.5Z M200,659.5 V638.2 h1 V659.5Z M201,659.5 V633.2 h1 V659.5Z M202,659.5 V636.2 h1 V659.5Z M204,659.5 V641.2 h1 V659.5Z M205,659.5 V625.2 h1 V659.5Z M221,659.5 V637.2 h1 V659.5Z M222,659.5 V592.4 h1 V659.5Z M224,659.5 V611.5 h1 V659.5Z M225,659.5 V635.2 h1 V659.5Z M226,659.5 V643.0 h1 V659.5Z M228,659.5 V639.0 h1 V659.5Z M229,659.5 V627.3 h1 V659.5Z M231,659.5 V636.9 h1 V659.5Z M232,659.5 V619.4 h1 V659.5Z M233,659.5 V640.0 h1 V659.5Z M235,659.5 V636.6 h1 V659.5Z M236,659.5 V636.6 h1 V659.5Z M238,659.5 V625.9 h1 V659.5Z M239,659.5 V635.0 h1 V659.5Z M240,659.5 V629.9 h1 V659.5Z M242,659.5 V632.0 h1 V659.5Z M243,659.5 V644.8 h1 V659.5Z M245,659.5 V635.8 h1 V659.5Z M246,659.5 V633.5 h1 V659.5Z M247,659.5 V638.4 h1 V659.5Z M249,659.5 V608.1 h1 V659.5Z M250,659.5 V625.9 h1 V659.5Z M252,659.5 V633.2 h1 V659.5Z M253,659.5 V641.0 h1 V659.5Z M254,659.5 V626.7 h1 V659.5Z M256,659.5 V629.1 h1 V659.5Z M257,659.5 V637.2 h1 V659.5Z M260,659.5 V604.7 h1 V659.5Z M261,659.5 V629.1 h1 V659.5Z M263,659.5 V628.3 h1 V659.5Z M264,659.5 V633.4 h1 V659.5Z M278,659.5 V625.2 h1 V659.5Z M280,659.5 V638.2 h1 V659.5Z M281,659.5 V637.3 h1 V659.5Z M283,659.5 V602.6 h1 V659.5Z M284,659.5 V633.5 h1 V659.5Z M285,659.5 V636.3 h1 V659.5Z M287,659.5 V642.4 h1 V659.5Z M288,659.5 V636.7 h1 V659.5Z M290,659.5 V631.9 h1 V659.5Z M291,659.5 V634.8 h1 V659.5Z M292,659.5 V629.7 h1 V659.5Z M294,659.5 V643.1 h1 V659.5Z M295,659.5 V636.3 h1 V659.5Z M297,659.5 V625.4 h1 V659.5Z M298,659.5 V634.3 h1 V659.5Z M299,659.5 V630.5 h1 V659.5Z M301,659.5 V634.7 h1 V659.5Z M302,659.5 V626.0 h1 V659.5Z M304,659.5 V641.0 h1 V659.5Z M305,659.5 V623.9 h1 V659.5Z M306,659.5 V641.2 h1 V659.5Z M308,659.5 V641.4 h1 V659.5Z M309,659.5 V634.3 h1 V659.5Z M311,659.5 V626.8 h1 V659.5Z M312,659.5 V628.7 h1 V659.5Z M313,659.5 V628.1 h1 V659.5Z M315,659.5 V626.8 h1 V659.5Z M316,659.5 V634.2 h1 V659.5Z M318,659.5 V634.9 h1 V659.5Z M319,659.5 V625.2 h1 V659.5Z M320,659.5 V634.4 h1 V659.5Z M336,659.5 V628.4 h1 V659.5Z M337,659.5 V622.0 h1 V659.5Z M339,659.5 V645.6 h1 V659.5Z M340,659.5 V626.5 h1 V659.5Z M342,659.5 V641.1 h1 V659.5Z M343,659.5 V622.3 h1 V659.5Z M344,659.5 V648.2 h1 V659.5Z M346,659.5 V642.7 h1 V659.5Z M349,659.5 V626.6 h1 V659.5Z M350,659.5 V606.1 h1 V659.5Z M351,659.5 V635.4 h1 V659.5Z M353,659.5 V626.0 h1 V659.5Z M354,659.5 V645.1 h1 V659.5Z M356,659.5 V638.8 h1 V659.5Z M357,659.5 V627.5 h1 V659.5Z M358,659.5 V589.6 h1 V659.5Z M360,659.5 V625.8 h1 V659.5Z M361,659.5 V624.0 h1 V659.5Z M363,659.5 V636.6 h1 V659.5Z M364,659.5 V637.9 h1 V659.5Z M367,659.5 V644.0 h1 V659.5Z M368,659.5 V642.7 h1 V659.5Z M370,659.5 V633.2 h1 V659.5Z M371,659.5 V624.9 h1 V659.5Z M372,659.5 V631.2 h1 V659.5Z M374,659.5 V615.0 h1 V659.5Z M375,659.5 V631.0 h1 V659.5Z M377,659.5 V632.5 h1 V659.5Z M378,659.5 V640.0 h1 V659.5Z M379,659.5 V603.3 h1 V659.5Z M394,659.5 V597.6 h1 V659.5Z M395,659.5 V615.0 h1 V659.5Z M396,659.5 V620.7 h1 V659.5Z M398,659.5 V626.0 h1 V659.5Z M399,659.5 V621.1 h1 V659.5Z M401,659.5 V627.1 h1 V659.5Z M402,659.5 V617.7 h1 V659.5Z M403,659.5 V607.8 h1 V659.5Z M405,659.5 V627.0 h1 V659.5Z M406,659.5 V620.6 h1 V659.5Z M408,659.5 V618.2 h1 V659.5Z M409,659.5 V597.8 h1 V659.5Z M410,659.5 V596.5 h1 V659.5Z M412,659.5 V598.8 h1 V659.5Z M413,659.5 V620.2 h1 V659.5Z M415,659.5 V609.7 h1 V659.5Z M416,659.5 V614.6 h1 V659.5Z M419,659.5 V587.6 h1 V659.5Z M420,659.5 V600.3 h1 V659.5Z M422,659.5 V554.7 h1 V659.5Z M423,659.5 V617.9 h1 V659.5Z M424,659.5 V578.7 h1 V659.5Z M426,659.5 V601.4 h1 V659.5Z M427,659.5 V620.6 h1 V659.5Z M429,659.5 V617.4 h1 V659.5Z M430,659.5 V572.5 h1 V659.5Z M431,659.5 V607.6 h1 V659.5Z M433,659.5 V587.6 h1 V659.5Z M434,659.5 V612.1 h1 V659.5Z M436,659.5 V602.0 h1 V659.5Z M437,659.5 V622.0 h1 V659.5Z M451,659.5 V562.2 h1 V659.5Z M453,659.5 V588.9 h1 V659.5Z M454,659.5 V633.6 h1 V659.5Z M455,659.5 V594.4 h1 V659.5Z M457,659.5 V566.3 h1 V659.5Z M458,659.5 V609.0 h1 V659.5Z M460,659.5 V636.4 h1 V659.5Z M461,659.5 V637.7 h1 V659.5Z M462,659.5 V630.6 h1 V659.5Z M464,659.5 V613.7 h1 V659.5Z M465,659.5 V638.0 h1 V659.5Z M467,659.5 V627.7 h1 V659.5Z M468,659.5 V623.7 h1 V659.5Z M469,659.5 V636.2 h1 V659.5Z M471,659.5 V614.3 h1 V659.5Z M472,659.5 V625.8 h1 V659.5Z M474,659.5 V630.7 h1 V659.5Z M475,659.5 V619.4 h1 V659.5Z M476,659.5 V636.4 h1 V659.5Z M478,659.5 V636.9 h1 V659.5Z M479,659.5 V625.0 h1 V659.5Z M481,659.5 V618.5 h1 V659.5Z M482,659.5 V610.4 h1 V659.5Z M483,659.5 V619.8 h1 V659.5Z M485,659.5 V622.7 h1 V659.5Z M486,659.5 V612.9 h1 V659.5Z M489,659.5 V630.9 h1 V659.5Z M490,659.5 V632.7 h1 V659.5Z M492,659.5 V608.1 h1 V659.5Z M493,659.5 V615.5 h1 V659.5Z M509,659.5 V631.1 h1 V659.5Z M510,659.5 V635.5 h1 V659.5Z M512,659.5 V617.2 h1 V659.5Z M513,659.5 V648.1 h1 V659.5Z M514,659.5 V628.4 h1 V659.5Z M516,659.5 V629.3 h1 V659.5Z M517,659.5 V618.7 h1 V659.5Z M519,659.5 V632.5 h1 V659.5Z M520,659.5 V610.2 h1 V659.5Z M521,659.5 V628.9 h1 V659.5Z M523,659.5 V617.8 h1 V659.5Z M524,659.5 V624.9 h1 V659.5Z M526,659.5 V633.7 h1 V659.5Z M527,659.5 V632.1 h1 V659.5Z M528,659.5 V617.5 h1 V659.5Z M530,659.5 V642.0 h1 V659.5Z M531,659.5 V631.5 h1 V659.5Z M533,659.5 V644.1 h1 V659.5Z M534,659.5 V606.8 h1 V659.5Z M535,659.5 V627.2 h1 V659.5Z M537,659.5 V641.2 h1 V659.5Z M538,659.5 V604.7 h1 V659.5Z M540,659.5 V642.3 h1 V659.5Z M541,659.5 V632.5 h1 V659.5Z M542,659.5 V634.2 h1 V659.5Z M544,659.5 V617.9 h1 V659.5Z M545,659.5 V636.9 h1 V659.5Z M548,659.5 V645.8 h1 V659.5Z M549,659.5 V640.2 h1 V659.5Z M551,659.5 V629.6 h1 V659.5Z M552,659.5 V636.1 h1 V659.5Z M566,659.5 V637.0 h1 V659.5Z M568,659.5 V644.1 h1 V659.5Z M569,659.5 V604.0 h1 V659.5Z M572,659.5 V632.4 h1 V659.5Z M573,659.5 V644.9 h1 V659.5Z M575,659.5 V620.2 h1 V659.5Z M576,659.5 V636.8 h1 V659.5Z M578,659.5 V630.4 h1 V659.5Z M579,659.5 V630.4 h1 V659.5Z M580,659.5 V644.0 h1 V659.5Z M582,659.5 V624.9 h1 V659.5Z M583,659.5 V634.4 h1 V659.5Z M585,659.5 V637.2 h1 V659.5Z M586,659.5 V644.2 h1 V659.5Z M587,659.5 V635.4 h1 V659.5Z M589,659.5 V620.6 h1 V659.5Z M590,659.5 V634.4 h1 V659.5Z M592,659.5 V621.5 h1 V659.5Z M593,659.5 V618.4 h1 V659.5Z M596,659.5 V636.0 h1 V659.5Z M597,659.5 V626.2 h1 V659.5Z M599,659.5 V634.2 h1 V659.5Z M600,659.5 V637.8 h1 V659.5Z M601,659.5 V625.2 h1 V659.5Z M603,659.5 V628.2 h1 V659.5Z M604,659.5 V628.9 h1 V659.5Z M606,659.5 V635.5 h1 V659.5Z M607,659.5 V619.3 h1 V659.5Z M608,659.5 V624.5 h1 V659.5Z M610,659.5 V630.0 h1 V659.5Z M624,659.5 V611.5 h1 V659.5Z M625,659.5 V628.4 h1 V659.5Z M627,659.5 V630.8 h1 V659.5Z M628,659.5 V644.7 h1 V659.5Z M631,659.5 V640.4 h1 V659.5Z M632,659.5 V644.2 h1 V659.5Z M634,659.5 V640.4 h1 V659.5Z M635,659.5 V632.8 h1 V659.5Z M637,659.5 V644.2 h1 V659.5Z M638,659.5 V639.0 h1 V659.5Z M639,659.5 V633.0 h1 V659.5Z M641,659.5 V645.5 h1 V659.5Z M642,659.5 V635.8 h1 V659.5Z M644,659.5 V637.2 h1 V659.5Z M645,659.5 V646.7 h1 V659.5Z M646,659.5 V603.3 h1 V659.5Z M648,659.5 V636.2 h1 V659.5Z M649,659.5 V618.4 h1 V659.5Z M651,659.5 V641.7 h1 V659.5Z M652,659.5 V626.6 h1 V659.5Z M653,659.5 V639.8 h1 V659.5Z M655,659.5 V635.1 h1 V659.5Z M656,659.5 V632.2 h1 V659.5Z M658,659.5 V641.5 h1 V659.5Z M659,659.5 V644.3 h1 V659.5Z M660,659.5 V648.7 h1 V659.5Z M662,659.5 V640.4 h1 V659.5Z M663,659.5 V648.8 h1 V659.5Z M665,659.5 V640.1 h1 V659.5Z M666,659.5 V631.3 h1 V659.5Z M667,659.5 V621.8 h1 V659.5Z M682,659.5 V568.4 h1 V659.5Z M683,659.5 V634.7 h1 V659.5Z M684,659.5 V573.9 h1 V659.5Z M686,659.5 V562.2 h1 V659.5Z M687,659.5 V622.3 h1 V659.5Z M689,659.5 V616.8 h1 V659.5Z M690,659.5 V628.6 h1 V659.5Z M691,659.5 V597.1 h1 V659.5Z M693,659.5 V593.3 h1 V659.5Z M694,659.5 V580.7 h1 V659.5Z M696,659.5 V619.1 h1 V659.5Z M697,659.5 V629.8 h1 V659.5Z M698,659.5 V632.5 h1 V659.5Z M700,659.5 V600.2 h1 V659.5Z M701,659.5 V618.1 h1 V659.5Z M703,659.5 V578.7 h1 V659.5Z M704,659.5 V604.8 h1 V659.5Z M705,659.5 V619.3 h1 V659.5Z M707,659.5 V612.2 h1 V659.5Z M710,659.5 V621.5 h1 V659.5Z M711,659.5 V611.2 h1 V659.5Z M712,659.5 V608.2 h1 V659.5Z M714,659.5 V617.1 h1 V659.5Z M715,659.5 V608.0 h1 V659.5Z M717,659.5 V633.3 h1 V659.5Z M718,659.5 V561.5 h1 V659.5Z M719,659.5 V580.7 h1 V659.5Z M721,659.5 V591.0 h1 V659.5Z M722,659.5 V631.0 h1 V659.5Z M725,659.5 V613.0 h1 V659.5Z M739,659.5 V575.9 h1 V659.5Z M741,659.5 V620.2 h1 V659.5Z M742,659.5 V636.5 h1 V659.5Z M743,659.5 V610.3 h1 V659.5Z M745,659.5 V629.2 h1 V659.5Z M746,659.5 V642.1 h1 V659.5Z M748,659.5 V613.0 h1 V659.5Z M749,659.5 V623.7 h1 V659.5Z M750,659.5 V613.0 h1 V659.5Z M752,659.5 V633.4 h1 V659.5Z M753,659.5 V628.3 h1 V659.5Z M755,659.5 V639.6 h1 V659.5Z M756,659.5 V594.4 h1 V659.5Z M757,659.5 V634.9 h1 V659.5Z M759,659.5 V627.9 h1 V659.5Z M760,659.5 V617.7 h1 V659.5Z M762,659.5 V634.5 h1 V659.5Z M763,659.5 V627.6 h1 V659.5Z M764,659.5 V622.8 h1 V659.5Z M766,659.5 V631.7 h1 V659.5Z M767,659.5 V599.1 h1 V659.5Z M769,659.5 V627.1 h1 V659.5Z M770,659.5 V611.8 h1 V659.5Z M773,659.5 V597.9 h1 V659.5Z M774,659.5 V628.7 h1 V659.5Z M776,659.5 V619.3 h1 V659.5Z M777,659.5 V586.2 h1 V659.5Z M778,659.5 V591.0 h1 V659.5Z M780,659.5 V601.3 h1 V659.5Z M781,659.5 V611.1 h1 V659.5Z M797,659.5 V610.2 h1 V659.5Z M798,659.5 V634.0 h1 V659.5Z M801,659.5 V629.8 h1 V659.5Z M802,659.5 V639.0 h1 V659.5Z M804,659.5 V608.1 h1 V659.5Z M805,659.5 V631.5 h1 V659.5Z M807,659.5 V627.9 h1 V659.5Z M808,659.5 V643.5 h1 V659.5Z M809,659.5 V645.8 h1 V659.5Z M811,659.5 V639.4 h1 V659.5Z M812,659.5 V628.1 h1 V659.5Z M814,659.5 V619.4 h1 V659.5Z M815,659.5 V637.0 h1 V659.5Z M816,659.5 V626.7 h1 V659.5Z M818,659.5 V643.1 h1 V659.5Z M821,659.5 V641.3 h1 V659.5Z M822,659.5 V640.5 h1 V659.5Z M823,659.5 V646.6 h1 V659.5Z M825,659.5 V650.6 h1 V659.5Z M826,659.5 V641.9 h1 V659.5Z M828,659.5 V638.2 h1 V659.5Z M829,659.5 V628.1 h1 V659.5Z M830,659.5 V632.8 h1 V659.5Z M832,659.5 V630.8 h1 V659.5Z M833,659.5 V620.5 h1 V659.5Z M835,659.5 V595.8 h1 V659.5Z M836,659.5 V637.6 h1 V659.5Z M837,659.5 V643.6 h1 V659.5Z M839,659.5 V627.5 h1 V659.5Z M840,659.5 V639.6 h1 V659.5Z M856,659.5 V616.6 h1 V659.5Z M857,659.5 V579.4 h1 V659.5Z M859,659.5 V624.6 h1 V659.5Z M860,659.5 V623.6 h1 V659.5Z M861,659.5 V635.5 h1 V659.5Z M863,659.5 V595.6 h1 V659.5Z M864,659.5 V603.2 h1 V659.5Z M866,659.5 V570.5 h1 V659.5Z M867,659.5 V571.8 h1 V659.5Z M868,659.5 V639.0 h1 V659.5Z M870,659.5 V613.4 h1 V659.5Z M871,659.5 V610.6 h1 V659.5Z M873,659.5 V616.4 h1 V659.5Z M874,659.5 V596.4 h1 V659.5Z M875,659.5 V597.4 h1 V659.5Z M877,659.5 V589.6 h1 V659.5Z M878,659.5 V626.8 h1 V659.5Z M880,659.5 V605.4 h1 V659.5Z M881,659.5 V580.7 h1 V659.5Z M882,659.5 V604.5 h1 V659.5Z M884,659.5 V594.4 h1 V659.5Z M885,659.5 V637.0 h1 V659.5Z M887,659.5 V604.0 h1 V659.5Z M888,659.5 V628.2 h1 V659.5Z M889,659.5 V600.5 h1 V659.5Z M891,659.5 V615.4 h1 V659.5Z M894,659.5 V599.9 h1 V659.5Z M895,659.5 V635.1 h1 V659.5Z M896,659.5 V596.1 h1 V659.5Z M898,659.5 V611.0 h1 V659.5Z M912,659.5 V625.9 h1 V659.5Z M913,659.5 V623.7 h1 V659.5Z M915,659.5 V638.5 h1 V659.5Z M916,659.5 V640.7 h1 V659.5Z M919,659.5 V597.9 h1 V659.5Z M920,659.5 V633.8 h1 V659.5Z M922,659.5 V639.7 h1 V659.5Z M923,659.5 V635.3 h1 V659.5Z M925,659.5 V634.5 h1 V659.5Z M926,659.5 V623.8 h1 V659.5Z M927,659.5 V629.0 h1 V659.5Z M929,659.5 V612.8 h1 V659.5Z M930,659.5 V626.3 h1 V659.5Z M933,659.5 V628.1 h1 V659.5Z M934,659.5 V634.4 h1 V659.5Z M936,659.5 V612.1 h1 V659.5Z M937,659.5 V597.9 h1 V659.5Z M939,659.5 V612.3 h1 V659.5Z M940,659.5 V634.9 h1 V659.5Z M941,659.5 V638.1 h1 V659.5Z M943,659.5 V596.5 h1 V659.5Z M944,659.5 V624.3 h1 V659.5Z M946,659.5 V614.9 h1 V659.5Z M947,659.5 V612.0 h1 V659.5Z M948,659.5 V635.3 h1 V659.5Z M950,659.5 V614.7 h1 V659.5Z M951,659.5 V620.1 h1 V659.5Z M953,659.5 V622.9 h1 V659.5Z M954,659.5 V638.0 h1 V659.5Z M955,659.5 V525.9 h1 V659.5Z M970,659.5 V609.8 h1 V659.5Z M971,659.5 V614.2 h1 V659.5Z M972,659.5 V613.3 h1 V659.5Z M974,659.5 V604.8 h1 V659.5Z M975,659.5 V625.4 h1 V659.5Z M977,659.5 V594.6 h1 V659.5Z M978,659.5 V613.7 h1 V659.5Z M979,659.5 V624.2 h1 V659.5Z M981,659.5 V572.5 h1 V659.5Z M982,659.5 V616.5 h1 V659.5Z M984,659.5 V626.7 h1 V659.5Z M985,659.5 V567.0 h1 V659.5Z M986,659.5 V598.8 h1 V659.5Z M988,659.5 V597.8 h1 V659.5Z M989,659.5 V629.1 h1 V659.5Z M991,659.5 V565.0 h1 V659.5Z M992,659.5 V599.1 h1 V659.5Z M993,659.5 V565.7 h1 V659.5Z M995,659.5 V614.3 h1 V659.5Z M996,659.5 V629.4 h1 V659.5Z M998,659.5 V616.0 h1 V659.5Z M999,659.5 V609.6 h1 V659.5Z M1002,659.5 V547.8 h1 V659.5Z M1003,659.5 V601.8 h1 V659.5Z M1005,659.5 V601.7 h1 V659.5Z M1006,659.5 V577.3 h1 V659.5Z M1007,659.5 V594.6 h1 V659.5Z M1009,659.5 V595.9 h1 V659.5Z M1010,659.5 V620.6 h1 V659.5Z M1012,659.5 V553.3 h1 V659.5Z M1013,659.5 V586.2 h1 V659.5Z M1030,659.5 V618.4 h1 V659.5Z M1031,659.5 V538.3 h1 V659.5Z M1033,659.5 V525.9 h1 V659.5Z M1034,659.5 V578.2 h1 V659.5Z M1036,659.5 V621.5 h1 V659.5Z M1037,659.5 V580.4 h1 V659.5Z M1038,659.5 V543.0 h1 V659.5Z M1040,659.5 V593.1 h1 V659.5Z M1041,659.5 V597.7 h1 V659.5Z M1043,659.5 V603.4 h1 V659.5Z M1044,659.5 V510.9 h1 V659.5Z M1045,659.5 V590.7 h1 V659.5Z M1047,659.5 V525.9 h1 V659.5Z M1048,659.5 V602.0 h1 V659.5Z M1050,659.5 V606.2 h1 V659.5Z M1051,659.5 V602.4 h1 V659.5Z M1052,659.5 V541.0 h1 V659.5Z M1054,659.5 V549.9 h1 V659.5Z M1055,659.5 V582.8 h1 V659.5Z M1057,659.5 V597.8 h1 V659.5Z M1058,659.5 V596.6 h1 V659.5Z M1059,659.5 V570.9 h1 V659.5Z M1061,659.5 V590.4 h1 V659.5Z M1062,659.5 V530.7 h1 V659.5Z M1064,659.5 V591.4 h1 V659.5Z M1065,659.5 V590.4 h1 V659.5Z M1066,659.5 V556.8 h1 V659.5Z M1068,659.5 V545.1 h1 V659.5Z M1069,659.5 V589.8 h1 V659.5Z M1071,659.5 V620.5 h1 V659.5Z M1085,659.5 V610.4 h1 V659.5Z M1088,659.5 V607.4 h1 V659.5Z M1089,659.5 V606.8 h1 V659.5Z M1090,659.5 V610.2 h1 V659.5Z M1092,659.5 V655.4 h1 V659.5Z" fill="#bfbfbf" shape-rendering="crispEdges"/>
<path d="M185.5,500.5 V659.5 M366.5,500.5 V659.5 M547.5,500.5 V659.5 M728.5,500.5 V659.5 M909.5,500.5 V659.5 M1090.5,500.5 V659.5 M57.5,625.5 H1142.5 M57.5,591.5 H1142.5 M57.5,557.5 H1142.5 M57.5,522.5 H1142.5" stroke="#b0b0b0" stroke-width="1" fill="none" shape-rendering="crispEdges"/>
<path d="M185.5,659.5 v5 M366.5,659.5 v5 M547.5,659.5 v5 M728.5,659.5 v5 M909.5,659.5 v5 M1090.5,659.5 v5 M57.5,659.5 h-5.5 M57.5,625.5 h-5.5 M57.5,591.5 h-5.5 M57.5,557.5 h-5.5 M57.5,522.5 h-5.5" stroke="#000" stroke-width="1" fill="none" shape-rendering="crispEdges"/>
<rect x="57.5" y="500.5" width="1085.0" height="159.0" fill="none" stroke="#000" stroke-width="1" shape-rendering="crispEdges"/>
<text x="26.8" y="664.5" font-size="13.2" fill="#000" textLength="19.8" lengthAdjust="spacingAndGlyphs">0.0</text>
<text x="26.8" y="630.5" font-size="13.2" fill="#000" textLength="19.8" lengthAdjust="spacingAndGlyphs">0.5</text>
<text x="26.8" y="596.5" font-size="13.2" fill="#000" textLength="19.8" lengthAdjust="spacingAndGlyphs">1.0</text>
<text x="26.8" y="562.5" font-size="13.2" fill="#000" textLength="19.8" lengthAdjust="spacingAndGlyphs">1.5</text>
<text x="26.8" y="527.5" font-size="13.2" fill="#000" textLength="19.8" lengthAdjust="spacingAndGlyphs">2.0</text>
<text x="159.5" y="679.2" font-size="13.2" fill="#000" textLength="52.0" lengthAdjust="spacingAndGlyphs">2021-01</text>
<text x="340.5" y="679.2" font-size="13.2" fill="#000" textLength="52.0" lengthAdjust="spacingAndGlyphs">2022-01</text>
<text x="521.5" y="679.2" font-size="13.2" fill="#000" textLength="52.0" lengthAdjust="spacingAndGlyphs">2023-01</text>
<text x="702.5" y="679.2" font-size="13.2" fill="#000" textLength="52.0" lengthAdjust="spacingAndGlyphs">2024-01</text>
<text x="883.5" y="679.2" font-size="13.2" fill="#000" textLength="52.0" lengthAdjust="spacingAndGlyphs">2025-01</text>
<text x="1064.5" y="679.2" font-size="13.2" fill="#000" textLength="52.0" lengthAdjust="spacingAndGlyphs">2026-01</text>
<text x="57.8" y="497.3" font-size="13.5" fill="#000" textLength="22.3" lengthAdjust="spacingAndGlyphs">1e6</text>
<text transform="translate(18.5,603.7) rotate(-90)" font-size="13.3" textLength="43.7" lengthAdjust="spacingAndGlyphs">Volume</text>
</g>
<g id="summary" font-size="16.5">
<text><tspan x="57.8" y="716.9" textLength="25.0" lengthAdjust="spacingAndGlyphs">XLU</tspan><tspan x="90.1" y="717.3" textLength="66.1" lengthAdjust="spacingAndGlyphs" font-size="16">交易次数</tspan><tspan x="157.5" y="716.9">:</tspan><tspan x="167.2" y="716.9" textLength="8.7" lengthAdjust="spacingAndGlyphs">3</tspan></text>
<text><tspan x="57.8" y="737.3" textLength="98.4" lengthAdjust="spacingAndGlyphs" font-size="16">策略总收益率</tspan><tspan x="157.5" y="736.3">:</tspan><tspan x="167.9" y="736.3" textLength="55.2" lengthAdjust="spacingAndGlyphs">71.74%</tspan></text>
<text><tspan x="57.8" y="756.3" textLength="98.4" lengthAdjust="spacingAndGlyphs" font-size="16">长期持有收益</tspan><tspan x="157.5" y="755.3">:</tspan><tspan x="167.9" y="755.3" textLength="55.2" lengthAdjust="spacingAndGlyphs">60.16%</tspan></text>
<text><tspan x="57.8" y="776.2" textLength="65.1" lengthAdjust="spacingAndGlyphs" font-size="16">交易记录</tspan><tspan x="124.5" y="776.4">:</tspan></text>
<text><tspan x="67.5" y="792.9" textLength="63.9" lengthAdjust="spacingAndGlyphs" font-size="16">Buy Date</tspan><tspan x="143.6" y="792.9" textLength="65.1" lengthAdjust="spacingAndGlyphs" font-size="16">Buy Price</tspan><tspan x="220.2" y="792.9" textLength="65.1" lengthAdjust="spacingAndGlyphs" font-size="16">Sell Date</tspan><tspan x="296.7" y="792.9" textLength="66.5" lengthAdjust="spacingAndGlyphs" font-size="16">Sell Price</tspan><tspan x="374.1" y="792.9" textLength="93.6" lengthAdjust="spacingAndGlyphs" font-size="16">Holding Days</tspan><tspan x="479.4" y="792.9" textLength="53.5" lengthAdjust="spacingAndGlyphs" font-size="16">Profit %</tspan></text>
<text><tspan x="57.8" y="809.5" textLength="88.2" lengthAdjust="spacingAndGlyphs">2020-11-30</tspan><tspan x="176.9" y="809.5" textLength="44.0" lengthAdjust="spacingAndGlyphs">26.78</tspan><tspan x="227.0" y="809.5" textLength="88.4" lengthAdjust="spacingAndGlyphs">2022-04-22</tspan><tspan x="351.5" y="809.5" textLength="44.0" lengthAdjust="spacingAndGlyphs">33.12</tspan><tspan x="451.9" y="809.5" textLength="28.0" lengthAdjust="spacingAndGlyphs">507</tspan><tspan x="506.6" y="809.5" textLength="43.3" lengthAdjust="spacingAndGlyphs">23.67</tspan></text>
<text><tspan x="57.8" y="827.3" textLength="88.2" lengthAdjust="spacingAndGlyphs">2022-04-29</tspan><tspan x="176.9" y="827.3" textLength="44.0" lengthAdjust="spacingAndGlyphs">31.77</tspan><tspan x="227.0" y="827.3" textLength="88.4" lengthAdjust="spacingAndGlyphs">2024-10-25</tspan><tspan x="351.5" y="827.3" textLength="44.0" lengthAdjust="spacingAndGlyphs">38.76</tspan><tspan x="451.9" y="827.3" textLength="28.0" lengthAdjust="spacingAndGlyphs">910</tspan><tspan x="506.6" y="827.3" textLength="43.3" lengthAdjust="spacingAndGlyphs">22.00</tspan></text>
<text><tspan x="57.8" y="844.1" textLength="88.2" lengthAdjust="spacingAndGlyphs">2024-11-01</tspan><tspan x="176.9" y="844.1" textLength="44.0" lengthAdjust="spacingAndGlyphs">37.68</tspan><tspan x="227.0" y="844.1" textLength="88.4" lengthAdjust="spacingAndGlyphs">2026-01-06</tspan><tspan x="351.5" y="844.1" textLength="44.0" lengthAdjust="spacingAndGlyphs">42.89</tspan><tspan x="451.9" y="844.1" textLength="28.0" lengthAdjust="spacingAndGlyphs">431</tspan><tspan x="506.6" y="844.1" textLength="43.3" lengthAdjust="spacingAndGlyphs">13.83</tspan></text>
</g>
</svg>
</body></html>
